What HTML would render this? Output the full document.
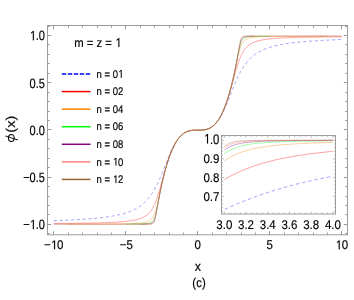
<!DOCTYPE html>
<html><head><meta charset="utf-8"><title>plot</title>
<style>html,body{margin:0;padding:0;background:#fff;}body{width:354px;height:300px;overflow:hidden;position:relative;font-family:"Liberation Sans",sans-serif;}</style>
</head><body>
<svg width="354" height="300" viewBox="0 0 354 300" style="position:absolute;left:0;top:0;will-change:transform">
<rect width="354" height="300" fill="#fff"/>
<defs><clipPath id="cm"><rect x="47.5" y="25.5" width="300.0" height="209.3"/></clipPath>
<clipPath id="ci"><rect x="224.3" y="135.5" width="108.6" height="78.5"/></clipPath></defs>
<g clip-path="url(#cm)" fill="none" stroke-width="0.38" stroke-linejoin="round">
<path d="M53.7,220.76 L54.42,220.73 L55.14,220.7 L55.86,220.68 L56.58,220.65 L57.3,220.62 L58.02,220.6 L58.74,220.57 L59.46,220.54 L60.18,220.51 L60.9,220.48 L61.62,220.45 L62.34,220.42 L63.06,220.39 L63.78,220.36 L64.5,220.33 L65.22,220.3 L65.94,220.27 L66.66,220.23 L67.38,220.2 L68.11,220.17 L68.83,220.13 L69.55,220.1 L70.27,220.06 L70.99,220.02 L71.71,219.99 L72.43,219.95 L73.15,219.91 L73.87,219.87 L74.59,219.83 L75.31,219.79 L76.03,219.75 L76.75,219.71 L77.47,219.67 L78.19,219.63 L78.91,219.58 L79.63,219.54 L80.35,219.49 L81.07,219.45 L81.79,219.4 L82.51,219.35 L83.23,219.3 L83.95,219.25 L84.67,219.2 L85.39,219.15 L86.11,219.1 L86.83,219.04 L87.55,218.99 L88.27,218.93 L88.99,218.87 L89.71,218.82 L90.43,218.76 L91.15,218.69 L91.87,218.63 L92.59,218.57 L93.31,218.5 L94.03,218.44 L94.75,218.37 L95.47,218.3 L96.19,218.23 L96.92,218.16 L97.64,218.08 L98.36,218.01 L99.08,217.93 L99.8,217.85 L100.52,217.77 L101.24,217.68 L101.96,217.6 L102.68,217.51 L103.4,217.42 L104.12,217.33 L104.84,217.24 L105.56,217.14 L106.28,217.04 L107,216.94 L107.72,216.83 L108.44,216.73 L109.16,216.62 L109.88,216.5 L110.6,216.39 L111.32,216.27 L112.04,216.15 L112.76,216.02 L113.48,215.89 L114.2,215.76 L114.92,215.62 L115.64,215.48 L116.36,215.33 L117.08,215.18 L117.8,215.02 L118.52,214.86 L119.24,214.7 L119.96,214.53 L120.68,214.35 L121.4,214.17 L122.12,213.98 L122.84,213.79 L123.56,213.58 L124.28,213.38 L125,213.16 L125.73,212.94 L126.45,212.71 L127.17,212.47 L127.89,212.22 L128.61,211.96 L129.33,211.69 L130.05,211.41 L130.77,211.12 L131.49,210.82 L132.21,210.51 L132.93,210.19 L133.07,210.12 L133.22,210.05 L133.36,209.98 L133.5,209.92 L133.65,209.85 L133.79,209.78 L133.94,209.71 L134.08,209.64 L134.22,209.57 L134.37,209.49 L134.51,209.42 L134.66,209.35 L134.8,209.28 L134.94,209.2 L135.09,209.13 L135.23,209.05 L135.38,208.98 L135.52,208.9 L135.66,208.82 L135.81,208.74 L135.95,208.66 L136.1,208.59 L136.24,208.51 L136.38,208.42 L136.53,208.34 L136.67,208.26 L136.82,208.18 L136.96,208.1 L137.1,208.01 L137.25,207.93 L137.39,207.84 L137.54,207.75 L137.68,207.67 L137.83,207.58 L137.97,207.49 L138.11,207.4 L138.26,207.31 L138.4,207.22 L138.55,207.13 L138.69,207.04 L138.83,206.94 L138.98,206.85 L139.12,206.75 L139.27,206.66 L139.41,206.56 L139.55,206.46 L139.7,206.36 L139.84,206.27 L139.99,206.16 L140.13,206.06 L140.27,205.96 L140.42,205.86 L140.56,205.75 L140.71,205.65 L140.85,205.54 L140.99,205.44 L141.14,205.33 L141.28,205.22 L141.43,205.11 L141.57,205 L141.71,204.89 L141.86,204.78 L142,204.66 L142.15,204.55 L142.29,204.43 L142.43,204.31 L142.58,204.19 L142.72,204.08 L142.87,203.96 L143.01,203.83 L143.16,203.71 L143.3,203.59 L143.44,203.46 L143.59,203.34 L143.73,203.21 L143.88,203.08 L144.02,202.95 L144.16,202.82 L144.31,202.69 L144.45,202.55 L144.6,202.42 L144.74,202.28 L144.88,202.15 L145.03,202.01 L145.17,201.87 L145.32,201.73 L145.46,201.58 L145.6,201.44 L145.75,201.29 L145.89,201.15 L146.04,201 L146.18,200.85 L146.32,200.7 L146.47,200.55 L146.61,200.39 L146.76,200.24 L146.9,200.08 L147.04,199.92 L147.19,199.76 L147.33,199.6 L147.48,199.44 L147.62,199.28 L147.76,199.11 L147.91,198.94 L148.05,198.77 L148.2,198.6 L148.34,198.43 L148.48,198.26 L148.63,198.08 L148.77,197.9 L148.92,197.72 L149.06,197.54 L149.21,197.36 L149.35,197.18 L149.49,196.99 L149.64,196.8 L149.78,196.61 L149.93,196.42 L150.07,196.23 L150.21,196.04 L150.36,195.84 L150.5,195.64 L150.65,195.44 L150.79,195.24 L150.93,195.03 L151.08,194.83 L151.22,194.62 L151.37,194.41 L151.51,194.2 L151.65,193.99 L151.8,193.77 L151.94,193.55 L152.09,193.33 L152.23,193.11 L152.37,192.89 L152.52,192.66 L152.66,192.44 L152.81,192.21 L152.95,191.97 L153.09,191.74 L153.24,191.5 L153.38,191.27 L153.53,191.03 L153.67,190.79 L153.81,190.54 L153.96,190.3 L154.1,190.05 L154.25,189.8 L154.39,189.54 L154.53,189.29 L154.68,189.03 L154.82,188.78 L154.97,188.51 L155.11,188.25 L155.26,187.99 L155.4,187.72 L155.54,187.45 L155.69,187.18 L155.83,186.9 L155.98,186.63 L156.12,186.35 L156.26,186.07 L156.41,185.79 L156.55,185.51 L156.7,185.22 L156.84,184.93 L156.98,184.64 L157.13,184.35 L157.27,184.05 L157.42,183.76 L157.56,183.46 L157.7,183.16 L157.85,182.85 L157.99,182.55 L158.14,182.24 L158.28,181.93 L158.42,181.62 L158.57,181.31 L158.71,181 L158.86,180.68 L159,180.36 L159.14,180.04 L159.29,179.72 L159.43,179.4 L159.58,179.07 L159.72,178.75 L159.86,178.42 L160.01,178.09 L160.15,177.75 L160.3,177.42 L160.44,177.08 L160.59,176.75 L160.73,176.41 L160.87,176.07 L161.02,175.73 L161.16,175.39 L161.31,175.04 L161.45,174.7 L161.59,174.35 L161.74,174 L161.88,173.65 L162.03,173.3 L162.17,172.95 L162.31,172.6 L162.46,172.25 L162.6,171.89 L162.75,171.54 L162.89,171.18 L163.03,170.82 L163.18,170.47 L163.32,170.11 L163.47,169.75 L163.61,169.39 L163.75,169.03 L163.9,168.67 L164.04,168.31 L164.19,167.94 L164.33,167.58 L164.47,167.22 L164.62,166.86 L164.76,166.5 L164.91,166.13 L165.05,165.77 L165.19,165.41 L165.34,165.05 L165.48,164.68 L165.63,164.32 L165.77,163.96 L165.91,163.6 L166.06,163.24 L166.2,162.88 L166.35,162.51 L166.49,162.16 L166.64,161.8 L166.78,161.44 L166.92,161.08 L167.07,160.72 L167.21,160.37 L167.36,160.01 L167.5,159.66 L167.64,159.3 L167.79,158.95 L167.93,158.6 L168.08,158.25 L168.22,157.9 L168.36,157.55 L168.51,157.21 L168.65,156.86 L168.94,156.18 L169.66,154.49 L170.38,152.85 L171.1,151.26 L171.82,149.72 L172.54,148.23 L173.26,146.81 L173.98,145.45 L174.7,144.15M220.8,116.15 L221.52,114.85 L222.24,113.49 L222.96,112.07 L223.68,110.58 L224.4,109.04 L225.12,107.45 L225.84,105.81 L226.56,104.12 L226.85,103.44 L226.99,103.09 L227.14,102.75 L227.28,102.4 L227.42,102.05 L227.57,101.7 L227.71,101.35 L227.86,101 L228,100.64 L228.14,100.29 L228.29,99.93 L228.43,99.58 L228.58,99.22 L228.72,98.86 L228.86,98.5 L229.01,98.14 L229.15,97.79 L229.3,97.42 L229.44,97.06 L229.59,96.7 L229.73,96.34 L229.87,95.98 L230.02,95.62 L230.16,95.25 L230.31,94.89 L230.45,94.53 L230.59,94.17 L230.74,93.8 L230.88,93.44 L231.03,93.08 L231.17,92.72 L231.31,92.36 L231.46,91.99 L231.6,91.63 L231.75,91.27 L231.89,90.91 L232.03,90.55 L232.18,90.19 L232.32,89.83 L232.47,89.48 L232.61,89.12 L232.75,88.76 L232.9,88.41 L233.04,88.05 L233.19,87.7 L233.33,87.35 L233.47,87 L233.62,86.65 L233.76,86.3 L233.91,85.95 L234.05,85.6 L234.19,85.26 L234.34,84.91 L234.48,84.57 L234.63,84.23 L234.77,83.89 L234.91,83.55 L235.06,83.22 L235.2,82.88 L235.35,82.55 L235.49,82.21 L235.64,81.88 L235.78,81.55 L235.92,81.23 L236.07,80.9 L236.21,80.58 L236.36,80.26 L236.5,79.94 L236.64,79.62 L236.79,79.3 L236.93,78.99 L237.08,78.68 L237.22,78.37 L237.36,78.06 L237.51,77.75 L237.65,77.45 L237.8,77.14 L237.94,76.84 L238.08,76.54 L238.23,76.25 L238.37,75.95 L238.52,75.66 L238.66,75.37 L238.8,75.08 L238.95,74.79 L239.09,74.51 L239.24,74.23 L239.38,73.95 L239.52,73.67 L239.67,73.4 L239.81,73.12 L239.96,72.85 L240.1,72.58 L240.24,72.31 L240.39,72.05 L240.53,71.79 L240.68,71.52 L240.82,71.27 L240.97,71.01 L241.11,70.76 L241.25,70.5 L241.4,70.25 L241.54,70 L241.69,69.76 L241.83,69.51 L241.97,69.27 L242.12,69.03 L242.26,68.8 L242.41,68.56 L242.55,68.33 L242.69,68.09 L242.84,67.86 L242.98,67.64 L243.13,67.41 L243.27,67.19 L243.41,66.97 L243.56,66.75 L243.7,66.53 L243.85,66.31 L243.99,66.1 L244.13,65.89 L244.28,65.68 L244.42,65.47 L244.57,65.27 L244.71,65.06 L244.85,64.86 L245,64.66 L245.14,64.46 L245.29,64.26 L245.43,64.07 L245.57,63.88 L245.72,63.69 L245.86,63.5 L246.01,63.31 L246.15,63.12 L246.29,62.94 L246.44,62.76 L246.58,62.58 L246.73,62.4 L246.87,62.22 L247.02,62.04 L247.16,61.87 L247.3,61.7 L247.45,61.53 L247.59,61.36 L247.74,61.19 L247.88,61.02 L248.02,60.86 L248.17,60.7 L248.31,60.54 L248.46,60.38 L248.6,60.22 L248.74,60.06 L248.89,59.91 L249.03,59.75 L249.18,59.6 L249.32,59.45 L249.46,59.3 L249.61,59.15 L249.75,59.01 L249.9,58.86 L250.04,58.72 L250.18,58.57 L250.33,58.43 L250.47,58.29 L250.62,58.15 L250.76,58.02 L250.9,57.88 L251.05,57.75 L251.19,57.61 L251.34,57.48 L251.48,57.35 L251.62,57.22 L251.77,57.09 L251.91,56.96 L252.06,56.84 L252.2,56.71 L252.34,56.59 L252.49,56.47 L252.63,56.34 L252.78,56.22 L252.92,56.11 L253.07,55.99 L253.21,55.87 L253.35,55.75 L253.5,55.64 L253.64,55.52 L253.79,55.41 L253.93,55.3 L254.07,55.19 L254.22,55.08 L254.36,54.97 L254.51,54.86 L254.65,54.76 L254.79,54.65 L254.94,54.55 L255.08,54.44 L255.23,54.34 L255.37,54.24 L255.51,54.14 L255.66,54.03 L255.8,53.94 L255.95,53.84 L256.09,53.74 L256.23,53.64 L256.38,53.55 L256.52,53.45 L256.67,53.36 L256.81,53.26 L256.95,53.17 L257.1,53.08 L257.24,52.99 L257.39,52.9 L257.53,52.81 L257.67,52.72 L257.82,52.63 L257.96,52.55 L258.11,52.46 L258.25,52.37 L258.4,52.29 L258.54,52.2 L258.68,52.12 L258.83,52.04 L258.97,51.96 L259.12,51.88 L259.26,51.79 L259.4,51.71 L259.55,51.64 L259.69,51.56 L259.84,51.48 L259.98,51.4 L260.12,51.32 L260.27,51.25 L260.41,51.17 L260.56,51.1 L260.7,51.02 L260.84,50.95 L260.99,50.88 L261.13,50.81 L261.28,50.73 L261.42,50.66 L261.56,50.59 L261.71,50.52 L261.85,50.45 L262,50.38 L262.14,50.32 L262.28,50.25 L262.43,50.18 L262.57,50.11 L263.29,49.79 L264.01,49.48 L264.73,49.18 L265.45,48.89 L266.17,48.61 L266.89,48.34 L267.61,48.08 L268.33,47.83 L269.05,47.59 L269.77,47.36 L270.5,47.14 L271.22,46.92 L271.94,46.72 L272.66,46.51 L273.38,46.32 L274.1,46.13 L274.82,45.95 L275.54,45.77 L276.26,45.6 L276.98,45.44 L277.7,45.28 L278.42,45.12 L279.14,44.97 L279.86,44.82 L280.58,44.68 L281.3,44.54 L282.02,44.41 L282.74,44.28 L283.46,44.15 L284.18,44.03 L284.9,43.91 L285.62,43.8 L286.34,43.68 L287.06,43.57 L287.78,43.47 L288.5,43.36 L289.22,43.26 L289.94,43.16 L290.66,43.06 L291.38,42.97 L292.1,42.88 L292.82,42.79 L293.54,42.7 L294.26,42.62 L294.98,42.53 L295.7,42.45 L296.42,42.37 L297.14,42.29 L297.86,42.22 L298.58,42.14 L299.31,42.07 L300.03,42 L300.75,41.93 L301.47,41.86 L302.19,41.8 L302.91,41.73 L303.63,41.67 L304.35,41.61 L305.07,41.54 L305.79,41.48 L306.51,41.43 L307.23,41.37 L307.95,41.31 L308.67,41.26 L309.39,41.2 L310.11,41.15 L310.83,41.1 L311.55,41.05 L312.27,41 L312.99,40.95 L313.71,40.9 L314.43,40.85 L315.15,40.81 L315.87,40.76 L316.59,40.72 L317.31,40.67 L318.03,40.63 L318.75,40.59 L319.47,40.55 L320.19,40.51 L320.91,40.47 L321.63,40.43 L322.35,40.39 L323.07,40.35 L323.79,40.31 L324.51,40.28 L325.23,40.24 L325.95,40.2 L326.67,40.17 L327.39,40.13 L328.12,40.1 L328.84,40.07 L329.56,40.03 L330.28,40 L331,39.97 L331.72,39.94 L332.44,39.91 L333.16,39.88 L333.88,39.85 L334.6,39.82 L335.32,39.79 L336.04,39.76 L336.76,39.73 L337.48,39.7 L338.2,39.68 L338.92,39.65 L339.64,39.62 L340.36,39.6 L341.08,39.57 L341.8,39.54" stroke="#0000ff" stroke-dasharray="3.1 2.7"/>
<path d="M53.7,223.53 L54.42,223.52 L55.14,223.52 L55.86,223.51 L56.58,223.51 L57.3,223.5 L58.02,223.5 L58.74,223.49 L59.46,223.48 L60.18,223.48 L60.9,223.47 L61.62,223.46 L62.34,223.46 L63.06,223.45 L63.78,223.44 L64.5,223.44 L65.22,223.43 L65.94,223.42 L66.66,223.41 L67.38,223.41 L68.11,223.4 L68.83,223.39 L69.55,223.38 L70.27,223.38 L70.99,223.37 L71.71,223.36 L72.43,223.35 L73.15,223.34 L73.87,223.33 L74.59,223.32 L75.31,223.31 L76.03,223.3 L76.75,223.3 L77.47,223.29 L78.19,223.28 L78.91,223.27 L79.63,223.25 L80.35,223.24 L81.07,223.23 L81.79,223.22 L82.51,223.21 L83.23,223.2 L83.95,223.19 L84.67,223.18 L85.39,223.16 L86.11,223.15 L86.83,223.14 L87.55,223.12 L88.27,223.11 L88.99,223.1 L89.71,223.08 L90.43,223.07 L91.15,223.05 L91.87,223.04 L92.59,223.02 L93.31,223.01 L94.03,222.99 L94.75,222.97 L95.47,222.96 L96.19,222.94 L96.92,222.92 L97.64,222.9 L98.36,222.88 L99.08,222.86 L99.8,222.84 L100.52,222.82 L101.24,222.8 L101.96,222.78 L102.68,222.76 L103.4,222.73 L104.12,222.71 L104.84,222.68 L105.56,222.66 L106.28,222.63 L107,222.61 L107.72,222.58 L108.44,222.55 L109.16,222.52 L109.88,222.49 L110.6,222.46 L111.32,222.42 L112.04,222.39 L112.76,222.35 L113.48,222.32 L114.2,222.28 L114.92,222.24 L115.64,222.2 L116.36,222.16 L117.08,222.11 L117.8,222.07 L118.52,222.02 L119.24,221.97 L119.96,221.92 L120.68,221.86 L121.4,221.81 L122.12,221.75 L122.84,221.69 L123.56,221.62 L124.28,221.55 L125,221.48 L125.73,221.41 L126.45,221.33 L127.17,221.25 L127.89,221.17 L128.61,221.08 L129.33,220.98 L130.05,220.88 L130.77,220.77 L131.49,220.66 L132.21,220.54 L132.93,220.42 L133.07,220.39 L133.22,220.36 L133.36,220.34 L133.5,220.31 L133.65,220.28 L133.79,220.26 L133.94,220.23 L134.08,220.2 L134.22,220.17 L134.37,220.14 L134.51,220.11 L134.66,220.08 L134.8,220.05 L134.94,220.02 L135.09,219.99 L135.23,219.96 L135.38,219.93 L135.52,219.89 L135.66,219.86 L135.81,219.83 L135.95,219.8 L136.1,219.76 L136.24,219.73 L136.38,219.69 L136.53,219.66 L136.67,219.62 L136.82,219.58 L136.96,219.55 L137.1,219.51 L137.25,219.47 L137.39,219.43 L137.54,219.4 L137.68,219.36 L137.83,219.32 L137.97,219.28 L138.11,219.23 L138.26,219.19 L138.4,219.15 L138.55,219.11 L138.69,219.06 L138.83,219.02 L138.98,218.97 L139.12,218.93 L139.27,218.88 L139.41,218.84 L139.55,218.79 L139.7,218.74 L139.84,218.69 L139.99,218.64 L140.13,218.59 L140.27,218.54 L140.42,218.49 L140.56,218.43 L140.71,218.38 L140.85,218.33 L140.99,218.27 L141.14,218.21 L141.28,218.16 L141.43,218.1 L141.57,218.04 L141.71,217.98 L141.86,217.92 L142,217.86 L142.15,217.79 L142.29,217.73 L142.43,217.66 L142.58,217.6 L142.72,217.53 L142.87,217.46 L143.01,217.39 L143.16,217.32 L143.3,217.25 L143.44,217.18 L143.59,217.1 L143.73,217.03 L143.88,216.95 L144.02,216.87 L144.16,216.79 L144.31,216.71 L144.45,216.63 L144.6,216.55 L144.74,216.46 L144.88,216.37 L145.03,216.28 L145.17,216.19 L145.32,216.1 L145.46,216.01 L145.6,215.91 L145.75,215.82 L145.89,215.72 L146.04,215.62 L146.18,215.52 L146.32,215.41 L146.47,215.31 L146.61,215.2 L146.76,215.09 L146.9,214.97 L147.04,214.86 L147.19,214.74 L147.33,214.62 L147.48,214.5 L147.62,214.38 L147.76,214.25 L147.91,214.12 L148.05,213.99 L148.2,213.86 L148.34,213.72 L148.48,213.59 L148.63,213.44 L148.77,213.3 L148.92,213.15 L149.06,213 L149.21,212.85 L149.35,212.69 L149.49,212.53 L149.64,212.37 L149.78,212.21 L149.93,212.04 L150.07,211.86 L150.21,211.69 L150.36,211.51 L150.5,211.33 L150.65,211.14 L150.79,210.95 L150.93,210.75 L151.08,210.56 L151.22,210.35 L151.37,210.15 L151.51,209.94 L151.65,209.72 L151.8,209.5 L151.94,209.28 L152.09,209.05 L152.23,208.82 L152.37,208.58 L152.52,208.34 L152.66,208.09 L152.81,207.84 L152.95,207.59 L153.09,207.33 L153.24,207.06 L153.38,206.79 L153.53,206.51 L153.67,206.23 L153.81,205.94 L153.96,205.65 L154.1,205.35 L154.25,205.05 L154.39,204.74 L154.53,204.43 L154.68,204.11 L154.82,203.78 L154.97,203.45 L155.11,203.12 L155.26,202.77 L155.4,202.43 L155.54,202.07 L155.69,201.71 L155.83,201.35 L155.98,200.97 L156.12,200.6 L156.26,200.21 L156.41,199.83 L156.55,199.43 L156.7,199.03 L156.84,198.63 L156.98,198.22 L157.13,197.8 L157.27,197.38 L157.42,196.95 L157.56,196.52 L157.7,196.08 L157.85,195.64 L157.99,195.19 L158.14,194.74 L158.28,194.28 L158.42,193.81 L158.57,193.35 L158.71,192.88 L158.86,192.4 L159,191.92 L159.14,191.44 L159.29,190.95 L159.43,190.46 L159.58,189.96 L159.72,189.47 L159.86,188.96 L160.01,188.46 L160.15,187.95 L160.3,187.44 L160.44,186.93 L160.59,186.42 L160.73,185.9 L160.87,185.38 L161.02,184.86 L161.16,184.34 L161.31,183.82 L161.45,183.29 L161.59,182.77 L161.74,182.24 L161.88,181.72 L162.03,181.19 L162.17,180.66 L162.31,180.13 L162.46,179.61 L162.6,179.08 L162.75,178.55 L162.89,178.03 L163.03,177.5 L163.18,176.98 L163.32,176.45 L163.47,175.93 L163.61,175.41 L163.75,174.89 L163.9,174.37 L164.04,173.85 L164.19,173.34 L164.33,172.83 L164.47,172.32 L164.62,171.81 L164.76,171.3 L164.91,170.8 L165.05,170.3 L165.19,169.8 L165.34,169.3 L165.48,168.81 L165.63,168.32 L165.77,167.83 L165.91,167.34 L166.06,166.86 L166.2,166.38 L166.35,165.91 L166.49,165.43 L166.64,164.96 L166.78,164.5 L166.92,164.04 L167.07,163.58 L167.21,163.12 L167.36,162.67 L167.5,162.22 L167.64,161.77 L167.79,161.33 L167.93,160.89 L168.08,160.46 L168.22,160.03 L168.36,159.6 L168.51,159.17 L168.65,158.75 L168.94,157.92 L169.66,155.92 L170.38,154 L171.1,152.18 L171.82,150.45 L172.54,148.81 L173.26,147.26 L173.98,145.8 L174.7,144.42 L175.42,143.13 L176.14,141.91 L176.86,140.77 L177.58,139.71 L178.3,138.73 L179.02,137.81 L179.74,136.96 L180.46,136.18 L181.18,135.45 L181.9,134.79 L182.62,134.19 L183.34,133.64 L184.06,133.14 L184.78,132.69 L185.5,132.29 L186.22,131.94 L186.94,131.62 L187.66,131.35 L188.38,131.11 L189.1,130.91 L189.82,130.73 L190.54,130.59 L191.26,130.47 L191.98,130.37 L192.7,130.3 L193.42,130.24 L194.14,130.21 L194.86,130.18 L195.58,130.16 L196.3,130.15 L197.02,130.15 L197.74,130.15 L197.75,130.15 L197.76,130.15 L198.48,130.15 L199.2,130.15 L199.92,130.14 L200.64,130.12 L201.36,130.09 L202.08,130.06 L202.8,130 L203.52,129.93 L204.24,129.83 L204.96,129.71 L205.68,129.57 L206.4,129.39 L207.12,129.19 L207.84,128.95 L208.56,128.68 L209.28,128.36 L210,128.01 L210.72,127.61 L211.44,127.16 L212.16,126.66 L212.88,126.11 L213.6,125.51 L214.32,124.85 L215.04,124.12 L215.76,123.34 L216.48,122.49 L217.2,121.57 L217.92,120.59 L218.64,119.53 L219.36,118.39 L220.08,117.17 L220.8,115.88 L221.52,114.5 L222.24,113.04 L222.96,111.49 L223.68,109.85 L224.4,108.12 L225.12,106.3 L225.84,104.38 L226.56,102.38 L226.85,101.55 L226.99,101.13 L227.14,100.7 L227.28,100.27 L227.42,99.84 L227.57,99.41 L227.71,98.97 L227.86,98.53 L228,98.08 L228.14,97.63 L228.29,97.18 L228.43,96.72 L228.58,96.26 L228.72,95.8 L228.86,95.34 L229.01,94.87 L229.15,94.39 L229.3,93.92 L229.44,93.44 L229.59,92.96 L229.73,92.47 L229.87,91.98 L230.02,91.49 L230.16,91 L230.31,90.5 L230.45,90 L230.59,89.5 L230.74,89 L230.88,88.49 L231.03,87.98 L231.17,87.47 L231.31,86.96 L231.46,86.45 L231.6,85.93 L231.75,85.41 L231.89,84.89 L232.03,84.37 L232.18,83.85 L232.32,83.32 L232.47,82.8 L232.61,82.27 L232.75,81.75 L232.9,81.22 L233.04,80.69 L233.19,80.17 L233.33,79.64 L233.47,79.11 L233.62,78.58 L233.76,78.06 L233.91,77.53 L234.05,77.01 L234.19,76.48 L234.34,75.96 L234.48,75.44 L234.63,74.92 L234.77,74.4 L234.91,73.88 L235.06,73.37 L235.2,72.86 L235.35,72.35 L235.49,71.84 L235.64,71.34 L235.78,70.83 L235.92,70.34 L236.07,69.84 L236.21,69.35 L236.36,68.86 L236.5,68.38 L236.64,67.9 L236.79,67.42 L236.93,66.95 L237.08,66.49 L237.22,66.02 L237.36,65.56 L237.51,65.11 L237.65,64.66 L237.8,64.22 L237.94,63.78 L238.08,63.35 L238.23,62.92 L238.37,62.5 L238.52,62.08 L238.66,61.67 L238.8,61.27 L238.95,60.87 L239.09,60.47 L239.24,60.09 L239.38,59.7 L239.52,59.33 L239.67,58.95 L239.81,58.59 L239.96,58.23 L240.1,57.87 L240.24,57.53 L240.39,57.18 L240.53,56.85 L240.68,56.52 L240.82,56.19 L240.97,55.87 L241.11,55.56 L241.25,55.25 L241.4,54.95 L241.54,54.65 L241.69,54.36 L241.83,54.07 L241.97,53.79 L242.12,53.51 L242.26,53.24 L242.41,52.97 L242.55,52.71 L242.69,52.46 L242.84,52.21 L242.98,51.96 L243.13,51.72 L243.27,51.48 L243.41,51.25 L243.56,51.02 L243.7,50.8 L243.85,50.58 L243.99,50.36 L244.13,50.15 L244.28,49.95 L244.42,49.74 L244.57,49.55 L244.71,49.35 L244.85,49.16 L245,48.97 L245.14,48.79 L245.29,48.61 L245.43,48.44 L245.57,48.26 L245.72,48.09 L245.86,47.93 L246.01,47.77 L246.15,47.61 L246.29,47.45 L246.44,47.3 L246.58,47.15 L246.73,47 L246.87,46.86 L247.02,46.71 L247.16,46.58 L247.3,46.44 L247.45,46.31 L247.59,46.18 L247.74,46.05 L247.88,45.92 L248.02,45.8 L248.17,45.68 L248.31,45.56 L248.46,45.44 L248.6,45.33 L248.74,45.21 L248.89,45.1 L249.03,44.99 L249.18,44.89 L249.32,44.78 L249.46,44.68 L249.61,44.58 L249.75,44.48 L249.9,44.39 L250.04,44.29 L250.18,44.2 L250.33,44.11 L250.47,44.02 L250.62,43.93 L250.76,43.84 L250.9,43.75 L251.05,43.67 L251.19,43.59 L251.34,43.51 L251.48,43.43 L251.62,43.35 L251.77,43.27 L251.91,43.2 L252.06,43.12 L252.2,43.05 L252.34,42.98 L252.49,42.91 L252.63,42.84 L252.78,42.77 L252.92,42.7 L253.07,42.64 L253.21,42.57 L253.35,42.51 L253.5,42.44 L253.64,42.38 L253.79,42.32 L253.93,42.26 L254.07,42.2 L254.22,42.14 L254.36,42.09 L254.51,42.03 L254.65,41.97 L254.79,41.92 L254.94,41.87 L255.08,41.81 L255.23,41.76 L255.37,41.71 L255.51,41.66 L255.66,41.61 L255.8,41.56 L255.95,41.51 L256.09,41.46 L256.23,41.42 L256.38,41.37 L256.52,41.33 L256.67,41.28 L256.81,41.24 L256.95,41.19 L257.1,41.15 L257.24,41.11 L257.39,41.07 L257.53,41.02 L257.67,40.98 L257.82,40.94 L257.96,40.9 L258.11,40.87 L258.25,40.83 L258.4,40.79 L258.54,40.75 L258.68,40.72 L258.83,40.68 L258.97,40.64 L259.12,40.61 L259.26,40.57 L259.4,40.54 L259.55,40.5 L259.69,40.47 L259.84,40.44 L259.98,40.41 L260.12,40.37 L260.27,40.34 L260.41,40.31 L260.56,40.28 L260.7,40.25 L260.84,40.22 L260.99,40.19 L261.13,40.16 L261.28,40.13 L261.42,40.1 L261.56,40.07 L261.71,40.04 L261.85,40.02 L262,39.99 L262.14,39.96 L262.28,39.94 L262.43,39.91 L262.57,39.88 L263.29,39.76 L264.01,39.64 L264.73,39.53 L265.45,39.42 L266.17,39.32 L266.89,39.22 L267.61,39.13 L268.33,39.05 L269.05,38.97 L269.77,38.89 L270.5,38.82 L271.22,38.75 L271.94,38.68 L272.66,38.61 L273.38,38.55 L274.1,38.49 L274.82,38.44 L275.54,38.38 L276.26,38.33 L276.98,38.28 L277.7,38.23 L278.42,38.19 L279.14,38.14 L279.86,38.1 L280.58,38.06 L281.3,38.02 L282.02,37.98 L282.74,37.95 L283.46,37.91 L284.18,37.88 L284.9,37.84 L285.62,37.81 L286.34,37.78 L287.06,37.75 L287.78,37.72 L288.5,37.69 L289.22,37.67 L289.94,37.64 L290.66,37.62 L291.38,37.59 L292.1,37.57 L292.82,37.54 L293.54,37.52 L294.26,37.5 L294.98,37.48 L295.7,37.46 L296.42,37.44 L297.14,37.42 L297.86,37.4 L298.58,37.38 L299.31,37.36 L300.03,37.34 L300.75,37.33 L301.47,37.31 L302.19,37.29 L302.91,37.28 L303.63,37.26 L304.35,37.25 L305.07,37.23 L305.79,37.22 L306.51,37.2 L307.23,37.19 L307.95,37.18 L308.67,37.16 L309.39,37.15 L310.11,37.14 L310.83,37.12 L311.55,37.11 L312.27,37.1 L312.99,37.09 L313.71,37.08 L314.43,37.07 L315.15,37.06 L315.87,37.05 L316.59,37.03 L317.31,37.02 L318.03,37.01 L318.75,37 L319.47,37 L320.19,36.99 L320.91,36.98 L321.63,36.97 L322.35,36.96 L323.07,36.95 L323.79,36.94 L324.51,36.93 L325.23,36.92 L325.95,36.92 L326.67,36.91 L327.39,36.9 L328.12,36.89 L328.84,36.89 L329.56,36.88 L330.28,36.87 L331,36.86 L331.72,36.86 L332.44,36.85 L333.16,36.84 L333.88,36.84 L334.6,36.83 L335.32,36.82 L336.04,36.82 L336.76,36.81 L337.48,36.8 L338.2,36.8 L338.92,36.79 L339.64,36.79 L340.36,36.78 L341.08,36.78 L341.8,36.77" stroke="#ff0000"/>
<path d="M67.38,224.1 L68.11,224.1 L68.83,224.1 L69.55,224.1 L70.27,224.1 L70.99,224.09 L71.71,224.09 L72.43,224.09 L73.15,224.09 L73.87,224.09 L74.59,224.09 L75.31,224.09 L76.03,224.09 L76.75,224.08 L77.47,224.08 L78.19,224.08 L78.91,224.08 L79.63,224.08 L80.35,224.08 L81.07,224.07 L81.79,224.07 L82.51,224.07 L83.23,224.07 L83.95,224.07 L84.67,224.07 L85.39,224.06 L86.11,224.06 L86.83,224.06 L87.55,224.06 L88.27,224.06 L88.99,224.05 L89.71,224.05 L90.43,224.05 L91.15,224.05 L91.87,224.04 L92.59,224.04 L93.31,224.04 L94.03,224.04 L94.75,224.03 L95.47,224.03 L96.19,224.03 L96.92,224.03 L97.64,224.02 L98.36,224.02 L99.08,224.02 L99.8,224.01 L100.52,224.01 L101.24,224.01 L101.96,224 L102.68,224 L103.4,224 L104.12,223.99 L104.84,223.99 L105.56,223.98 L106.28,223.98 L107,223.97 L107.72,223.97 L108.44,223.96 L109.16,223.96 L109.88,223.95 L110.6,223.95 L111.32,223.94 L112.04,223.94 L112.76,223.93 L113.48,223.92 L114.2,223.92 L114.92,223.91 L115.64,223.9 L116.36,223.9 L117.08,223.89 L117.8,223.88 L118.52,223.87 L119.24,223.86 L119.96,223.85 L120.68,223.84 L121.4,223.83 L122.12,223.82 L122.84,223.81 L123.56,223.8 L124.28,223.78 L125,223.77 L125.73,223.76 L126.45,223.74 L127.17,223.72 L127.89,223.71 L128.61,223.69 L129.33,223.67 L130.05,223.65 L130.77,223.62 L131.49,223.6 L132.21,223.57 L132.93,223.55 L133.07,223.54 L133.22,223.54 L133.36,223.53 L133.5,223.52 L133.65,223.52 L133.79,223.51 L133.94,223.5 L134.08,223.5 L134.22,223.49 L134.37,223.49 L134.51,223.48 L134.66,223.47 L134.8,223.46 L134.94,223.46 L135.09,223.45 L135.23,223.44 L135.38,223.44 L135.52,223.43 L135.66,223.42 L135.81,223.41 L135.95,223.4 L136.1,223.4 L136.24,223.39 L136.38,223.38 L136.53,223.37 L136.67,223.36 L136.82,223.35 L136.96,223.34 L137.1,223.34 L137.25,223.33 L137.39,223.32 L137.54,223.31 L137.68,223.3 L137.83,223.29 L137.97,223.28 L138.11,223.27 L138.26,223.26 L138.4,223.24 L138.55,223.23 L138.69,223.22 L138.83,223.21 L138.98,223.2 L139.12,223.19 L139.27,223.18 L139.41,223.16 L139.55,223.15 L139.7,223.14 L139.84,223.12 L139.99,223.11 L140.13,223.1 L140.27,223.08 L140.42,223.07 L140.56,223.05 L140.71,223.04 L140.85,223.02 L140.99,223.01 L141.14,222.99 L141.28,222.97 L141.43,222.96 L141.57,222.94 L141.71,222.92 L141.86,222.91 L142,222.89 L142.15,222.87 L142.29,222.85 L142.43,222.83 L142.58,222.81 L142.72,222.79 L142.87,222.77 L143.01,222.75 L143.16,222.72 L143.3,222.7 L143.44,222.68 L143.59,222.65 L143.73,222.63 L143.88,222.6 L144.02,222.58 L144.16,222.55 L144.31,222.52 L144.45,222.49 L144.6,222.47 L144.74,222.44 L144.88,222.41 L145.03,222.37 L145.17,222.34 L145.32,222.31 L145.46,222.27 L145.6,222.24 L145.75,222.2 L145.89,222.17 L146.04,222.13 L146.18,222.09 L146.32,222.05 L146.47,222 L146.61,221.96 L146.76,221.92 L146.9,221.87 L147.04,221.82 L147.19,221.77 L147.33,221.72 L147.48,221.67 L147.62,221.61 L147.76,221.56 L147.91,221.5 L148.05,221.44 L148.2,221.38 L148.34,221.31 L148.48,221.24 L148.63,221.17 L148.77,221.1 L148.92,221.03 L149.06,220.95 L149.21,220.87 L149.35,220.79 L149.49,220.7 L149.64,220.61 L149.78,220.52 L149.93,220.42 L150.07,220.32 L150.21,220.22 L150.36,220.11 L150.5,219.99 L150.65,219.88 L150.79,219.75 L150.93,219.62 L151.08,219.49 L151.22,219.35 L151.37,219.21 L151.51,219.06 L151.65,218.9 L151.8,218.74 L151.94,218.57 L152.09,218.39 L152.23,218.2 L152.37,218.01 L152.52,217.81 L152.66,217.6 L152.81,217.38 L152.95,217.15 L153.09,216.91 L153.24,216.66 L153.38,216.41 L153.53,216.14 L153.67,215.85 L153.81,215.56 L153.96,215.26 L154.1,214.94 L154.25,214.61 L154.39,214.27 L154.53,213.92 L154.68,213.55 L154.82,213.17 L154.97,212.78 L155.11,212.37 L155.26,211.95 L155.4,211.51 L155.54,211.06 L155.69,210.6 L155.83,210.12 L155.98,209.63 L156.12,209.13 L156.26,208.61 L156.41,208.08 L156.55,207.54 L156.7,206.99 L156.84,206.43 L156.98,205.85 L157.13,205.27 L157.27,204.67 L157.42,204.07 L157.56,203.46 L157.7,202.84 L157.85,202.21 L157.99,201.57 L158.14,200.93 L158.28,200.29 L158.42,199.63 L158.57,198.98 L158.71,198.32 L158.86,197.66 L159,196.99 L159.14,196.33 L159.29,195.66 L159.43,194.99 L159.58,194.32 L159.72,193.65 L159.86,192.98 L160.01,192.31 L160.15,191.64 L160.3,190.97 L160.44,190.31 L160.59,189.64 L160.73,188.98 L160.87,188.32 L161.02,187.67 L161.16,187.02 L161.31,186.37 L161.45,185.72 L161.59,185.08 L161.74,184.44 L161.88,183.8 L162.03,183.17 L162.17,182.54 L162.31,181.91 L162.46,181.29 L162.6,180.68 L162.75,180.07 L162.89,179.46 L163.03,178.86 L163.18,178.26 L163.32,177.66 L163.47,177.07 L163.61,176.49 L163.75,175.91 L163.9,175.33 L164.04,174.76 L164.19,174.19 L164.33,173.63 L164.47,173.07 L164.62,172.52 L164.76,171.97 L164.91,171.42 L165.05,170.88 L165.19,170.35 L165.34,169.82 L165.48,169.29 L165.63,168.77 L165.77,168.26 L165.91,167.74 L166.06,167.24 L166.2,166.73 L166.35,166.23 L166.49,165.74 L166.64,165.25 L166.78,164.77 L166.92,164.29 L167.07,163.81 L167.21,163.34 L167.36,162.87 L167.5,162.41 L167.64,161.95 L167.79,161.5 L167.93,161.05 L168.08,160.6 L168.22,160.16 L168.36,159.72 L168.51,159.29 L168.65,158.86 L168.94,158.02 L169.66,155.98 L170.38,154.04 L171.1,152.21 L171.82,150.47 L172.54,148.82 L173.26,147.27 L173.98,145.8 L174.7,144.42 L175.42,143.13 L176.14,141.91 L176.86,140.78 L177.58,139.71 L178.3,138.73 L179.02,137.81 L179.74,136.96 L180.46,136.18 L181.18,135.45 L181.9,134.79 L182.62,134.19 L183.34,133.64 L184.06,133.14 L184.78,132.69 L185.5,132.29 L186.22,131.94 L186.94,131.62 L187.66,131.35 L188.38,131.11 L189.1,130.91 L189.82,130.73 L190.54,130.59 L191.26,130.47 L191.98,130.37 L192.7,130.3 L193.42,130.24 L194.14,130.21 L194.86,130.18 L195.58,130.16 L196.3,130.15 L197.02,130.15 L197.74,130.15 L197.75,130.15 L197.76,130.15 L198.48,130.15 L199.2,130.15 L199.92,130.14 L200.64,130.12 L201.36,130.09 L202.08,130.06 L202.8,130 L203.52,129.93 L204.24,129.83 L204.96,129.71 L205.68,129.57 L206.4,129.39 L207.12,129.19 L207.84,128.95 L208.56,128.68 L209.28,128.36 L210,128.01 L210.72,127.61 L211.44,127.16 L212.16,126.66 L212.88,126.11 L213.6,125.51 L214.32,124.85 L215.04,124.12 L215.76,123.34 L216.48,122.49 L217.2,121.57 L217.92,120.59 L218.64,119.52 L219.36,118.39 L220.08,117.17 L220.8,115.88 L221.52,114.5 L222.24,113.03 L222.96,111.48 L223.68,109.83 L224.4,108.09 L225.12,106.26 L225.84,104.32 L226.56,102.28 L226.85,101.44 L226.99,101.01 L227.14,100.58 L227.28,100.14 L227.42,99.7 L227.57,99.25 L227.71,98.8 L227.86,98.35 L228,97.89 L228.14,97.43 L228.29,96.96 L228.43,96.49 L228.58,96.01 L228.72,95.53 L228.86,95.05 L229.01,94.56 L229.15,94.07 L229.3,93.57 L229.44,93.06 L229.59,92.56 L229.73,92.04 L229.87,91.53 L230.02,91.01 L230.16,90.48 L230.31,89.95 L230.45,89.42 L230.59,88.88 L230.74,88.33 L230.88,87.78 L231.03,87.23 L231.17,86.67 L231.31,86.11 L231.46,85.54 L231.6,84.97 L231.75,84.39 L231.89,83.81 L232.03,83.23 L232.18,82.64 L232.32,82.04 L232.47,81.44 L232.61,80.84 L232.75,80.23 L232.9,79.62 L233.04,79.01 L233.19,78.39 L233.33,77.76 L233.47,77.13 L233.62,76.5 L233.76,75.86 L233.91,75.22 L234.05,74.58 L234.19,73.93 L234.34,73.28 L234.48,72.63 L234.63,71.98 L234.77,71.32 L234.91,70.66 L235.06,69.99 L235.2,69.33 L235.35,68.66 L235.49,67.99 L235.64,67.32 L235.78,66.65 L235.92,65.98 L236.07,65.31 L236.21,64.64 L236.36,63.97 L236.5,63.31 L236.64,62.64 L236.79,61.98 L236.93,61.32 L237.08,60.67 L237.22,60.01 L237.36,59.37 L237.51,58.73 L237.65,58.09 L237.8,57.46 L237.94,56.84 L238.08,56.23 L238.23,55.63 L238.37,55.03 L238.52,54.45 L238.66,53.87 L238.8,53.31 L238.95,52.76 L239.09,52.22 L239.24,51.69 L239.38,51.17 L239.52,50.67 L239.67,50.18 L239.81,49.7 L239.96,49.24 L240.1,48.79 L240.24,48.35 L240.39,47.93 L240.53,47.52 L240.68,47.13 L240.82,46.75 L240.97,46.38 L241.11,46.03 L241.25,45.69 L241.4,45.36 L241.54,45.04 L241.69,44.74 L241.83,44.45 L241.97,44.16 L242.12,43.89 L242.26,43.64 L242.41,43.39 L242.55,43.15 L242.69,42.92 L242.84,42.7 L242.98,42.49 L243.13,42.29 L243.27,42.1 L243.41,41.91 L243.56,41.73 L243.7,41.56 L243.85,41.4 L243.99,41.24 L244.13,41.09 L244.28,40.95 L244.42,40.81 L244.57,40.68 L244.71,40.55 L244.85,40.42 L245,40.31 L245.14,40.19 L245.29,40.08 L245.43,39.98 L245.57,39.88 L245.72,39.78 L245.86,39.69 L246.01,39.6 L246.15,39.51 L246.29,39.43 L246.44,39.35 L246.58,39.27 L246.73,39.2 L246.87,39.13 L247.02,39.06 L247.16,38.99 L247.3,38.92 L247.45,38.86 L247.59,38.8 L247.74,38.74 L247.88,38.69 L248.02,38.63 L248.17,38.58 L248.31,38.53 L248.46,38.48 L248.6,38.43 L248.74,38.38 L248.89,38.34 L249.03,38.3 L249.18,38.25 L249.32,38.21 L249.46,38.17 L249.61,38.13 L249.75,38.1 L249.9,38.06 L250.04,38.03 L250.18,37.99 L250.33,37.96 L250.47,37.93 L250.62,37.89 L250.76,37.86 L250.9,37.83 L251.05,37.81 L251.19,37.78 L251.34,37.75 L251.48,37.72 L251.62,37.7 L251.77,37.67 L251.91,37.65 L252.06,37.62 L252.2,37.6 L252.34,37.58 L252.49,37.55 L252.63,37.53 L252.78,37.51 L252.92,37.49 L253.07,37.47 L253.21,37.45 L253.35,37.43 L253.5,37.41 L253.64,37.39 L253.79,37.38 L253.93,37.36 L254.07,37.34 L254.22,37.33 L254.36,37.31 L254.51,37.29 L254.65,37.28 L254.79,37.26 L254.94,37.25 L255.08,37.23 L255.23,37.22 L255.37,37.2 L255.51,37.19 L255.66,37.18 L255.8,37.16 L255.95,37.15 L256.09,37.14 L256.23,37.12 L256.38,37.11 L256.52,37.1 L256.67,37.09 L256.81,37.08 L256.95,37.07 L257.1,37.06 L257.24,37.04 L257.39,37.03 L257.53,37.02 L257.67,37.01 L257.82,37 L257.96,36.99 L258.11,36.98 L258.25,36.97 L258.4,36.96 L258.54,36.96 L258.68,36.95 L258.83,36.94 L258.97,36.93 L259.12,36.92 L259.26,36.91 L259.4,36.9 L259.55,36.9 L259.69,36.89 L259.84,36.88 L259.98,36.87 L260.12,36.86 L260.27,36.86 L260.41,36.85 L260.56,36.84 L260.7,36.84 L260.84,36.83 L260.99,36.82 L261.13,36.81 L261.28,36.81 L261.42,36.8 L261.56,36.8 L261.71,36.79 L261.85,36.78 L262,36.78 L262.14,36.77 L262.28,36.76 L262.43,36.76 L262.57,36.75 L263.29,36.73 L264.01,36.7 L264.73,36.68 L265.45,36.65 L266.17,36.63 L266.89,36.61 L267.61,36.59 L268.33,36.58 L269.05,36.56 L269.77,36.54 L270.5,36.53 L271.22,36.52 L271.94,36.5 L272.66,36.49 L273.38,36.48 L274.1,36.47 L274.82,36.46 L275.54,36.45 L276.26,36.44 L276.98,36.43 L277.7,36.42 L278.42,36.41 L279.14,36.4 L279.86,36.4 L280.58,36.39 L281.3,36.38 L282.02,36.38 L282.74,36.37 L283.46,36.36 L284.18,36.36 L284.9,36.35 L285.62,36.35 L286.34,36.34 L287.06,36.34 L287.78,36.33 L288.5,36.33 L289.22,36.32 L289.94,36.32 L290.66,36.31 L291.38,36.31 L292.1,36.3 L292.82,36.3 L293.54,36.3 L294.26,36.29 L294.98,36.29 L295.7,36.29 L296.42,36.28 L297.14,36.28 L297.86,36.28 L298.58,36.27 L299.31,36.27 L300.03,36.27 L300.75,36.27 L301.47,36.26 L302.19,36.26 L302.91,36.26 L303.63,36.26 L304.35,36.25 L305.07,36.25 L305.79,36.25 L306.51,36.25 L307.23,36.24 L307.95,36.24 L308.67,36.24 L309.39,36.24 L310.11,36.24 L310.83,36.23 L311.55,36.23 L312.27,36.23 L312.99,36.23 L313.71,36.23 L314.43,36.23 L315.15,36.22 L315.87,36.22 L316.59,36.22 L317.31,36.22 L318.03,36.22 L318.75,36.22 L319.47,36.21 L320.19,36.21 L320.91,36.21 L321.63,36.21 L322.35,36.21 L323.07,36.21 L323.79,36.21 L324.51,36.21 L325.23,36.2 L325.95,36.2 L326.67,36.2 L327.39,36.2 L328.12,36.2" stroke="#ff8000"/>
<path d="M125.73,224.1 L126.45,224.1 L127.17,224.09 L127.89,224.09 L128.61,224.08 L129.33,224.08 L130.05,224.07 L130.77,224.07 L131.49,224.06 L132.21,224.05 L132.93,224.05 L133.07,224.04 L133.22,224.04 L133.36,224.04 L133.5,224.04 L133.65,224.04 L133.79,224.04 L133.94,224.03 L134.08,224.03 L134.22,224.03 L134.37,224.03 L134.51,224.03 L134.66,224.02 L134.8,224.02 L134.94,224.02 L135.09,224.02 L135.23,224.02 L135.38,224.01 L135.52,224.01 L135.66,224.01 L135.81,224.01 L135.95,224 L136.1,224 L136.24,224 L136.38,224 L136.53,223.99 L136.67,223.99 L136.82,223.99 L136.96,223.99 L137.1,223.98 L137.25,223.98 L137.39,223.98 L137.54,223.97 L137.68,223.97 L137.83,223.97 L137.97,223.96 L138.11,223.96 L138.26,223.96 L138.4,223.95 L138.55,223.95 L138.69,223.95 L138.83,223.94 L138.98,223.94 L139.12,223.94 L139.27,223.93 L139.41,223.93 L139.55,223.92 L139.7,223.92 L139.84,223.92 L139.99,223.91 L140.13,223.91 L140.27,223.9 L140.42,223.9 L140.56,223.89 L140.71,223.89 L140.85,223.88 L140.99,223.88 L141.14,223.87 L141.28,223.87 L141.43,223.86 L141.57,223.86 L141.71,223.85 L141.86,223.84 L142,223.84 L142.15,223.83 L142.29,223.82 L142.43,223.82 L142.58,223.81 L142.72,223.8 L142.87,223.8 L143.01,223.79 L143.16,223.78 L143.3,223.77 L143.44,223.76 L143.59,223.75 L143.73,223.75 L143.88,223.74 L144.02,223.73 L144.16,223.72 L144.31,223.71 L144.45,223.7 L144.6,223.69 L144.74,223.67 L144.88,223.66 L145.03,223.65 L145.17,223.64 L145.32,223.63 L145.46,223.61 L145.6,223.6 L145.75,223.58 L145.89,223.57 L146.04,223.55 L146.18,223.54 L146.32,223.52 L146.47,223.5 L146.61,223.49 L146.76,223.47 L146.9,223.45 L147.04,223.43 L147.19,223.41 L147.33,223.38 L147.48,223.36 L147.62,223.34 L147.76,223.31 L147.91,223.29 L148.05,223.26 L148.2,223.23 L148.34,223.2 L148.48,223.17 L148.63,223.14 L148.77,223.1 L148.92,223.07 L149.06,223.03 L149.21,222.99 L149.35,222.94 L149.49,222.9 L149.64,222.85 L149.78,222.8 L149.93,222.75 L150.07,222.7 L150.21,222.64 L150.36,222.58 L150.5,222.51 L150.65,222.45 L150.79,222.37 L150.93,222.3 L151.08,222.21 L151.22,222.13 L151.37,222.04 L151.51,221.94 L151.65,221.83 L151.8,221.72 L151.94,221.6 L152.09,221.48 L152.23,221.34 L152.37,221.2 L152.52,221.05 L152.66,220.88 L152.81,220.71 L152.95,220.52 L153.09,220.32 L153.24,220.11 L153.38,219.88 L153.53,219.64 L153.67,219.38 L153.81,219.11 L153.96,218.81 L154.1,218.5 L154.25,218.17 L154.39,217.82 L154.53,217.45 L154.68,217.05 L154.82,216.64 L154.97,216.2 L155.11,215.74 L155.26,215.26 L155.4,214.75 L155.54,214.23 L155.69,213.68 L155.83,213.11 L155.98,212.53 L156.12,211.92 L156.26,211.3 L156.41,210.66 L156.55,210.01 L156.7,209.34 L156.84,208.66 L156.98,207.97 L157.13,207.27 L157.27,206.56 L157.42,205.84 L157.56,205.12 L157.7,204.4 L157.85,203.67 L157.99,202.93 L158.14,202.2 L158.28,201.46 L158.42,200.72 L158.57,199.99 L158.71,199.25 L158.86,198.51 L159,197.78 L159.14,197.05 L159.29,196.32 L159.43,195.6 L159.58,194.88 L159.72,194.16 L159.86,193.45 L160.01,192.73 L160.15,192.03 L160.3,191.33 L160.44,190.63 L160.59,189.94 L160.73,189.25 L160.87,188.57 L161.02,187.89 L161.16,187.21 L161.31,186.54 L161.45,185.88 L161.59,185.22 L161.74,184.57 L161.88,183.92 L162.03,183.27 L162.17,182.63 L162.31,182 L162.46,181.37 L162.6,180.75 L162.75,180.13 L162.89,179.51 L163.03,178.91 L163.18,178.3 L163.32,177.7 L163.47,177.11 L163.61,176.52 L163.75,175.93 L163.9,175.36 L164.04,174.78 L164.19,174.21 L164.33,173.65 L164.47,173.09 L164.62,172.53 L164.76,171.98 L164.91,171.44 L165.05,170.89 L165.19,170.36 L165.34,169.83 L165.48,169.3 L165.63,168.78 L165.77,168.26 L165.91,167.75 L166.06,167.24 L166.2,166.74 L166.35,166.24 L166.49,165.74 L166.64,165.25 L166.78,164.77 L166.92,164.29 L167.07,163.81 L167.21,163.34 L167.36,162.87 L167.5,162.41 L167.64,161.95 L167.79,161.5 L167.93,161.05 L168.08,160.6 L168.22,160.16 L168.36,159.72 L168.51,159.29 L168.65,158.86 L168.94,158.02 L169.66,155.98 L170.38,154.04 L171.1,152.21 L171.82,150.47 L172.54,148.82 L173.26,147.27 L173.98,145.8 L174.7,144.42 L175.42,143.13 L176.14,141.91 L176.86,140.78 L177.58,139.71 L178.3,138.73 L179.02,137.81 L179.74,136.96 L180.46,136.18 L181.18,135.45 L181.9,134.79 L182.62,134.19 L183.34,133.64 L184.06,133.14 L184.78,132.69 L185.5,132.29 L186.22,131.94 L186.94,131.62 L187.66,131.35 L188.38,131.11 L189.1,130.91 L189.82,130.73 L190.54,130.59 L191.26,130.47 L191.98,130.37 L192.7,130.3 L193.42,130.24 L194.14,130.21 L194.86,130.18 L195.58,130.16 L196.3,130.15 L197.02,130.15 L197.74,130.15 L197.75,130.15 L197.76,130.15 L198.48,130.15 L199.2,130.15 L199.92,130.14 L200.64,130.12 L201.36,130.09 L202.08,130.06 L202.8,130 L203.52,129.93 L204.24,129.83 L204.96,129.71 L205.68,129.57 L206.4,129.39 L207.12,129.19 L207.84,128.95 L208.56,128.68 L209.28,128.36 L210,128.01 L210.72,127.61 L211.44,127.16 L212.16,126.66 L212.88,126.11 L213.6,125.51 L214.32,124.85 L215.04,124.12 L215.76,123.34 L216.48,122.49 L217.2,121.57 L217.92,120.59 L218.64,119.52 L219.36,118.39 L220.08,117.17 L220.8,115.88 L221.52,114.5 L222.24,113.03 L222.96,111.48 L223.68,109.83 L224.4,108.09 L225.12,106.26 L225.84,104.32 L226.56,102.28 L226.85,101.44 L226.99,101.01 L227.14,100.58 L227.28,100.14 L227.42,99.7 L227.57,99.25 L227.71,98.8 L227.86,98.35 L228,97.89 L228.14,97.43 L228.29,96.96 L228.43,96.49 L228.58,96.01 L228.72,95.53 L228.86,95.05 L229.01,94.56 L229.15,94.06 L229.3,93.56 L229.44,93.06 L229.59,92.55 L229.73,92.04 L229.87,91.52 L230.02,91 L230.16,90.47 L230.31,89.94 L230.45,89.41 L230.59,88.86 L230.74,88.32 L230.88,87.77 L231.03,87.21 L231.17,86.65 L231.31,86.09 L231.46,85.52 L231.6,84.94 L231.75,84.37 L231.89,83.78 L232.03,83.19 L232.18,82.6 L232.32,82 L232.47,81.39 L232.61,80.79 L232.75,80.17 L232.9,79.55 L233.04,78.93 L233.19,78.3 L233.33,77.67 L233.47,77.03 L233.62,76.38 L233.76,75.73 L233.91,75.08 L234.05,74.42 L234.19,73.76 L234.34,73.09 L234.48,72.41 L234.63,71.73 L234.77,71.05 L234.91,70.36 L235.06,69.67 L235.2,68.97 L235.35,68.27 L235.49,67.57 L235.64,66.85 L235.78,66.14 L235.92,65.42 L236.07,64.7 L236.21,63.98 L236.36,63.25 L236.5,62.52 L236.64,61.79 L236.79,61.05 L236.93,60.31 L237.08,59.58 L237.22,58.84 L237.36,58.1 L237.51,57.37 L237.65,56.63 L237.8,55.9 L237.94,55.18 L238.08,54.46 L238.23,53.74 L238.37,53.03 L238.52,52.33 L238.66,51.64 L238.8,50.96 L238.95,50.29 L239.09,49.64 L239.24,49 L239.38,48.38 L239.52,47.77 L239.67,47.19 L239.81,46.62 L239.96,46.07 L240.1,45.55 L240.24,45.04 L240.39,44.56 L240.53,44.1 L240.68,43.66 L240.82,43.25 L240.97,42.85 L241.11,42.48 L241.25,42.13 L241.4,41.8 L241.54,41.49 L241.69,41.19 L241.83,40.92 L241.97,40.66 L242.12,40.42 L242.26,40.19 L242.41,39.98 L242.55,39.78 L242.69,39.59 L242.84,39.42 L242.98,39.25 L243.13,39.1 L243.27,38.96 L243.41,38.82 L243.56,38.7 L243.7,38.58 L243.85,38.47 L243.99,38.36 L244.13,38.26 L244.28,38.17 L244.42,38.09 L244.57,38 L244.71,37.93 L244.85,37.85 L245,37.79 L245.14,37.72 L245.29,37.66 L245.43,37.6 L245.57,37.55 L245.72,37.5 L245.86,37.45 L246.01,37.4 L246.15,37.36 L246.29,37.31 L246.44,37.27 L246.58,37.23 L246.73,37.2 L246.87,37.16 L247.02,37.13 L247.16,37.1 L247.3,37.07 L247.45,37.04 L247.59,37.01 L247.74,36.99 L247.88,36.96 L248.02,36.94 L248.17,36.92 L248.31,36.89 L248.46,36.87 L248.6,36.85 L248.74,36.83 L248.89,36.81 L249.03,36.8 L249.18,36.78 L249.32,36.76 L249.46,36.75 L249.61,36.73 L249.75,36.72 L249.9,36.7 L250.04,36.69 L250.18,36.67 L250.33,36.66 L250.47,36.65 L250.62,36.64 L250.76,36.63 L250.9,36.61 L251.05,36.6 L251.19,36.59 L251.34,36.58 L251.48,36.57 L251.62,36.56 L251.77,36.55 L251.91,36.55 L252.06,36.54 L252.2,36.53 L252.34,36.52 L252.49,36.51 L252.63,36.5 L252.78,36.5 L252.92,36.49 L253.07,36.48 L253.21,36.48 L253.35,36.47 L253.5,36.46 L253.64,36.46 L253.79,36.45 L253.93,36.44 L254.07,36.44 L254.22,36.43 L254.36,36.43 L254.51,36.42 L254.65,36.42 L254.79,36.41 L254.94,36.41 L255.08,36.4 L255.23,36.4 L255.37,36.39 L255.51,36.39 L255.66,36.38 L255.8,36.38 L255.95,36.38 L256.09,36.37 L256.23,36.37 L256.38,36.36 L256.52,36.36 L256.67,36.36 L256.81,36.35 L256.95,36.35 L257.1,36.35 L257.24,36.34 L257.39,36.34 L257.53,36.34 L257.67,36.33 L257.82,36.33 L257.96,36.33 L258.11,36.32 L258.25,36.32 L258.4,36.32 L258.54,36.31 L258.68,36.31 L258.83,36.31 L258.97,36.31 L259.12,36.3 L259.26,36.3 L259.4,36.3 L259.55,36.3 L259.69,36.29 L259.84,36.29 L259.98,36.29 L260.12,36.29 L260.27,36.28 L260.41,36.28 L260.56,36.28 L260.7,36.28 L260.84,36.28 L260.99,36.27 L261.13,36.27 L261.28,36.27 L261.42,36.27 L261.56,36.27 L261.71,36.26 L261.85,36.26 L262,36.26 L262.14,36.26 L262.28,36.26 L262.43,36.26 L262.57,36.25 L263.29,36.25 L264.01,36.24 L264.73,36.23 L265.45,36.23 L266.17,36.22 L266.89,36.22 L267.61,36.21 L268.33,36.21 L269.05,36.2 L269.77,36.2" stroke="#00ff00"/>
<path d="M140.85,224.1 L140.99,224.09 L141.14,224.09 L141.28,224.09 L141.43,224.09 L141.57,224.09 L141.71,224.08 L141.86,224.08 L142,224.08 L142.15,224.08 L142.29,224.07 L142.43,224.07 L142.58,224.07 L142.72,224.07 L142.87,224.06 L143.01,224.06 L143.16,224.06 L143.3,224.05 L143.44,224.05 L143.59,224.05 L143.73,224.04 L143.88,224.04 L144.02,224.03 L144.16,224.03 L144.31,224.03 L144.45,224.02 L144.6,224.02 L144.74,224.01 L144.88,224.01 L145.03,224 L145.17,224 L145.32,223.99 L145.46,223.99 L145.6,223.98 L145.75,223.97 L145.89,223.97 L146.04,223.96 L146.18,223.95 L146.32,223.95 L146.47,223.94 L146.61,223.93 L146.76,223.92 L146.9,223.91 L147.04,223.9 L147.19,223.89 L147.33,223.88 L147.48,223.87 L147.62,223.86 L147.76,223.85 L147.91,223.84 L148.05,223.83 L148.2,223.81 L148.34,223.8 L148.48,223.78 L148.63,223.77 L148.77,223.75 L148.92,223.73 L149.06,223.71 L149.21,223.69 L149.35,223.67 L149.49,223.65 L149.64,223.62 L149.78,223.59 L149.93,223.57 L150.07,223.54 L150.21,223.5 L150.36,223.47 L150.5,223.43 L150.65,223.39 L150.79,223.35 L150.93,223.31 L151.08,223.26 L151.22,223.2 L151.37,223.15 L151.51,223.08 L151.65,223.02 L151.8,222.94 L151.94,222.86 L152.09,222.78 L152.23,222.68 L152.37,222.58 L152.52,222.47 L152.66,222.35 L152.81,222.21 L152.95,222.07 L153.09,221.91 L153.24,221.73 L153.38,221.54 L153.53,221.33 L153.67,221.1 L153.81,220.85 L153.96,220.58 L154.1,220.28 L154.25,219.95 L154.39,219.6 L154.53,219.22 L154.68,218.81 L154.82,218.36 L154.97,217.89 L155.11,217.39 L155.26,216.85 L155.4,216.29 L155.54,215.7 L155.69,215.08 L155.83,214.44 L155.98,213.77 L156.12,213.09 L156.26,212.39 L156.41,211.67 L156.55,210.93 L156.7,210.19 L156.84,209.44 L156.98,208.68 L157.13,207.91 L157.27,207.14 L157.42,206.36 L157.56,205.59 L157.7,204.81 L157.85,204.04 L157.99,203.26 L158.14,202.49 L158.28,201.72 L158.42,200.95 L158.57,200.19 L158.71,199.43 L158.86,198.67 L159,197.92 L159.14,197.17 L159.29,196.43 L159.43,195.69 L159.58,194.96 L159.72,194.23 L159.86,193.51 L160.01,192.79 L160.15,192.08 L160.3,191.37 L160.44,190.66 L160.59,189.97 L160.73,189.27 L160.87,188.59 L161.02,187.91 L161.16,187.23 L161.31,186.56 L161.45,185.89 L161.59,185.23 L161.74,184.58 L161.88,183.93 L162.03,183.28 L162.17,182.64 L162.31,182.01 L162.46,181.38 L162.6,180.75 L162.75,180.13 L162.89,179.52 L163.03,178.91 L163.18,178.3 L163.32,177.7 L163.47,177.11 L163.61,176.52 L163.75,175.94 L163.9,175.36 L164.04,174.78 L164.19,174.21 L164.33,173.65 L164.47,173.09 L164.62,172.53 L164.76,171.98 L164.91,171.44 L165.05,170.89 L165.19,170.36 L165.34,169.83 L165.48,169.3 L165.63,168.78 L165.77,168.26 L165.91,167.75 L166.06,167.24 L166.2,166.74 L166.35,166.24 L166.49,165.74 L166.64,165.25 L166.78,164.77 L166.92,164.29 L167.07,163.81 L167.21,163.34 L167.36,162.87 L167.5,162.41 L167.64,161.95 L167.79,161.5 L167.93,161.05 L168.08,160.6 L168.22,160.16 L168.36,159.72 L168.51,159.29 L168.65,158.86 L168.94,158.02 L169.66,155.98 L170.38,154.04 L171.1,152.21 L171.82,150.47 L172.54,148.82 L173.26,147.27 L173.98,145.8 L174.7,144.42 L175.42,143.13 L176.14,141.91 L176.86,140.78 L177.58,139.71 L178.3,138.73 L179.02,137.81 L179.74,136.96 L180.46,136.18 L181.18,135.45 L181.9,134.79 L182.62,134.19 L183.34,133.64 L184.06,133.14 L184.78,132.69 L185.5,132.29 L186.22,131.94 L186.94,131.62 L187.66,131.35 L188.38,131.11 L189.1,130.91 L189.82,130.73 L190.54,130.59 L191.26,130.47 L191.98,130.37 L192.7,130.3 L193.42,130.24 L194.14,130.21 L194.86,130.18 L195.58,130.16 L196.3,130.15 L197.02,130.15 L197.74,130.15 L197.75,130.15 L197.76,130.15 L198.48,130.15 L199.2,130.15 L199.92,130.14 L200.64,130.12 L201.36,130.09 L202.08,130.06 L202.8,130 L203.52,129.93 L204.24,129.83 L204.96,129.71 L205.68,129.57 L206.4,129.39 L207.12,129.19 L207.84,128.95 L208.56,128.68 L209.28,128.36 L210,128.01 L210.72,127.61 L211.44,127.16 L212.16,126.66 L212.88,126.11 L213.6,125.51 L214.32,124.85 L215.04,124.12 L215.76,123.34 L216.48,122.49 L217.2,121.57 L217.92,120.59 L218.64,119.52 L219.36,118.39 L220.08,117.17 L220.8,115.88 L221.52,114.5 L222.24,113.03 L222.96,111.48 L223.68,109.83 L224.4,108.09 L225.12,106.26 L225.84,104.32 L226.56,102.28 L226.85,101.44 L226.99,101.01 L227.14,100.58 L227.28,100.14 L227.42,99.7 L227.57,99.25 L227.71,98.8 L227.86,98.35 L228,97.89 L228.14,97.43 L228.29,96.96 L228.43,96.49 L228.58,96.01 L228.72,95.53 L228.86,95.05 L229.01,94.56 L229.15,94.06 L229.3,93.56 L229.44,93.06 L229.59,92.55 L229.73,92.04 L229.87,91.52 L230.02,91 L230.16,90.47 L230.31,89.94 L230.45,89.41 L230.59,88.86 L230.74,88.32 L230.88,87.77 L231.03,87.21 L231.17,86.65 L231.31,86.09 L231.46,85.52 L231.6,84.94 L231.75,84.36 L231.89,83.78 L232.03,83.19 L232.18,82.6 L232.32,82 L232.47,81.39 L232.61,80.78 L232.75,80.17 L232.9,79.55 L233.04,78.92 L233.19,78.29 L233.33,77.66 L233.47,77.02 L233.62,76.37 L233.76,75.72 L233.91,75.07 L234.05,74.41 L234.19,73.74 L234.34,73.07 L234.48,72.39 L234.63,71.71 L234.77,71.03 L234.91,70.33 L235.06,69.64 L235.2,68.93 L235.35,68.22 L235.49,67.51 L235.64,66.79 L235.78,66.07 L235.92,65.34 L236.07,64.61 L236.21,63.87 L236.36,63.13 L236.5,62.38 L236.64,61.63 L236.79,60.87 L236.93,60.11 L237.08,59.35 L237.22,58.58 L237.36,57.81 L237.51,57.04 L237.65,56.26 L237.8,55.49 L237.94,54.71 L238.08,53.94 L238.23,53.16 L238.37,52.39 L238.52,51.62 L238.66,50.86 L238.8,50.11 L238.95,49.37 L239.09,48.63 L239.24,47.91 L239.38,47.21 L239.52,46.53 L239.67,45.86 L239.81,45.22 L239.96,44.6 L240.1,44.01 L240.24,43.45 L240.39,42.91 L240.53,42.41 L240.68,41.94 L240.82,41.49 L240.97,41.08 L241.11,40.7 L241.25,40.35 L241.4,40.02 L241.54,39.72 L241.69,39.45 L241.83,39.2 L241.97,38.97 L242.12,38.76 L242.26,38.57 L242.41,38.39 L242.55,38.23 L242.69,38.09 L242.84,37.95 L242.98,37.83 L243.13,37.72 L243.27,37.62 L243.41,37.52 L243.56,37.44 L243.7,37.36 L243.85,37.28 L243.99,37.22 L244.13,37.15 L244.28,37.1 L244.42,37.04 L244.57,36.99 L244.71,36.95 L244.85,36.91 L245,36.87 L245.14,36.83 L245.29,36.8 L245.43,36.76 L245.57,36.73 L245.72,36.71 L245.86,36.68 L246.01,36.65 L246.15,36.63 L246.29,36.61 L246.44,36.59 L246.58,36.57 L246.73,36.55 L246.87,36.53 L247.02,36.52 L247.16,36.5 L247.3,36.49 L247.45,36.47 L247.59,36.46 L247.74,36.45 L247.88,36.44 L248.02,36.43 L248.17,36.42 L248.31,36.41 L248.46,36.4 L248.6,36.39 L248.74,36.38 L248.89,36.37 L249.03,36.36 L249.18,36.35 L249.32,36.35 L249.46,36.34 L249.61,36.33 L249.75,36.33 L249.9,36.32 L250.04,36.31 L250.18,36.31 L250.33,36.3 L250.47,36.3 L250.62,36.29 L250.76,36.29 L250.9,36.28 L251.05,36.28 L251.19,36.27 L251.34,36.27 L251.48,36.27 L251.62,36.26 L251.77,36.26 L251.91,36.25 L252.06,36.25 L252.2,36.25 L252.34,36.24 L252.49,36.24 L252.63,36.24 L252.78,36.23 L252.92,36.23 L253.07,36.23 L253.21,36.23 L253.35,36.22 L253.5,36.22 L253.64,36.22 L253.79,36.22 L253.93,36.21 L254.07,36.21 L254.22,36.21 L254.36,36.21 L254.51,36.21 L254.65,36.2" stroke="#800080"/>
<path d="M53.7,224.2 L54.42,224.2 L55.14,224.2 L55.86,224.2 L56.58,224.2 L57.3,224.2 L58.02,224.2 L58.74,224.2 L59.46,224.2 L60.18,224.2 L60.9,224.2 L61.62,224.2 L62.34,224.2 L63.06,224.2 L63.78,224.2 L64.5,224.2 L65.22,224.2 L65.94,224.2 L66.66,224.2 L67.38,224.2 L68.11,224.2 L68.83,224.2 L69.55,224.2 L70.27,224.2 L70.99,224.2 L71.71,224.2 L72.43,224.2 L73.15,224.2 L73.87,224.2 L74.59,224.2 L75.31,224.2 L76.03,224.2 L76.75,224.2 L77.47,224.2 L78.19,224.2 L78.91,224.2 L79.63,224.2 L80.35,224.2 L81.07,224.2 L81.79,224.2 L82.51,224.2 L83.23,224.2 L83.95,224.2 L84.67,224.2 L85.39,224.2 L86.11,224.2 L86.83,224.2 L87.55,224.2 L88.27,224.2 L88.99,224.2 L89.71,224.2 L90.43,224.2 L91.15,224.2 L91.87,224.2 L92.59,224.2 L93.31,224.2 L94.03,224.2 L94.75,224.2 L95.47,224.2 L96.19,224.2 L96.92,224.2 L97.64,224.2 L98.36,224.2 L99.08,224.2 L99.8,224.2 L100.52,224.2 L101.24,224.2 L101.96,224.2 L102.68,224.2 L103.4,224.2 L104.12,224.2 L104.84,224.2 L105.56,224.2 L106.28,224.2 L107,224.2 L107.72,224.2 L108.44,224.2 L109.16,224.2 L109.88,224.2 L110.6,224.2 L111.32,224.2 L112.04,224.2 L112.76,224.2 L113.48,224.2 L114.2,224.2 L114.92,224.2 L115.64,224.2 L116.36,224.2 L117.08,224.2 L117.8,224.2 L118.52,224.2 L119.24,224.2 L119.96,224.2 L120.68,224.2 L121.4,224.2 L122.12,224.2 L122.84,224.2 L123.56,224.19 L124.28,224.19 L125,224.19 L125.73,224.19 L126.45,224.19 L127.17,224.19 L127.89,224.19 L128.61,224.19 L129.33,224.19 L130.05,224.19 L130.77,224.19 L131.49,224.19 L132.21,224.19 L132.93,224.19 L133.07,224.19 L133.22,224.19 L133.36,224.19 L133.5,224.19 L133.65,224.19 L133.79,224.19 L133.94,224.19 L134.08,224.19 L134.22,224.19 L134.37,224.19 L134.51,224.19 L134.66,224.19 L134.8,224.19 L134.94,224.19 L135.09,224.19 L135.23,224.19 L135.38,224.19 L135.52,224.18 L135.66,224.18 L135.81,224.18 L135.95,224.18 L136.1,224.18 L136.24,224.18 L136.38,224.18 L136.53,224.18 L136.67,224.18 L136.82,224.18 L136.96,224.18 L137.1,224.18 L137.25,224.18 L137.39,224.18 L137.54,224.18 L137.68,224.18 L137.83,224.18 L137.97,224.18 L138.11,224.18 L138.26,224.18 L138.4,224.18 L138.55,224.18 L138.69,224.18 L138.83,224.18 L138.98,224.18 L139.12,224.18 L139.27,224.18 L139.41,224.18 L139.55,224.17 L139.7,224.17 L139.84,224.17 L139.99,224.17 L140.13,224.17 L140.27,224.17 L140.42,224.17 L140.56,224.17 L140.71,224.17 L140.85,224.17 L140.99,224.17 L141.14,224.17 L141.28,224.17 L141.43,224.17 L141.57,224.17 L141.71,224.16 L141.86,224.16 L142,224.16 L142.15,224.16 L142.29,224.16 L142.43,224.16 L142.58,224.16 L142.72,224.16 L142.87,224.16 L143.01,224.16 L143.16,224.15 L143.3,224.15 L143.44,224.15 L143.59,224.15 L143.73,224.15 L143.88,224.15 L144.02,224.15 L144.16,224.14 L144.31,224.14 L144.45,224.14 L144.6,224.14 L144.74,224.14 L144.88,224.14 L145.03,224.13 L145.17,224.13 L145.32,224.13 L145.46,224.13 L145.6,224.12 L145.75,224.12 L145.89,224.12 L146.04,224.12 L146.18,224.11 L146.32,224.11 L146.47,224.11 L146.61,224.1 L146.76,224.1 L146.9,224.1 L147.04,224.09 L147.19,224.09 L147.33,224.08 L147.48,224.08 L147.62,224.07 L147.76,224.07 L147.91,224.06 L148.05,224.06 L148.2,224.05 L148.34,224.04 L148.48,224.04 L148.63,224.03 L148.77,224.02 L148.92,224.01 L149.06,224 L149.21,223.99 L149.35,223.98 L149.49,223.97 L149.64,223.96 L149.78,223.94 L149.93,223.93 L150.07,223.91 L150.21,223.89 L150.36,223.88 L150.5,223.86 L150.65,223.83 L150.79,223.81 L150.93,223.78 L151.08,223.75 L151.22,223.72 L151.37,223.69 L151.51,223.65 L151.65,223.61 L151.8,223.56 L151.94,223.51 L152.09,223.45 L152.23,223.39 L152.37,223.32 L152.52,223.24 L152.66,223.15 L152.81,223.05 L152.95,222.94 L153.09,222.82 L153.24,222.67 L153.38,222.52 L153.53,222.34 L153.67,222.14 L153.81,221.91 L153.96,221.66 L154.1,221.37 L154.25,221.06 L154.39,220.71 L154.53,220.32 L154.68,219.89 L154.82,219.42 L154.97,218.91 L155.11,218.37 L155.26,217.78 L155.4,217.16 L155.54,216.51 L155.69,215.83 L155.83,215.13 L155.98,214.4 L156.12,213.65 L156.26,212.89 L156.41,212.11 L156.55,211.33 L156.7,210.53 L156.84,209.74 L156.98,208.94 L157.13,208.13 L157.27,207.33 L157.42,206.53 L157.56,205.73 L157.7,204.94 L157.85,204.14 L157.99,203.35 L158.14,202.57 L158.28,201.78 L158.42,201.01 L158.57,200.23 L158.71,199.47 L158.86,198.7 L159,197.95 L159.14,197.19 L159.29,196.45 L159.43,195.71 L159.58,194.97 L159.72,194.24 L159.86,193.52 L160.01,192.8 L160.15,192.08 L160.3,191.37 L160.44,190.67 L160.59,189.97 L160.73,189.28 L160.87,188.59 L161.02,187.91 L161.16,187.23 L161.31,186.56 L161.45,185.89 L161.59,185.23 L161.74,184.58 L161.88,183.93 L162.03,183.28 L162.17,182.64 L162.31,182.01 L162.46,181.38 L162.6,180.75 L162.75,180.13 L162.89,179.52 L163.03,178.91 L163.18,178.3 L163.32,177.7 L163.47,177.11 L163.61,176.52 L163.75,175.94 L163.9,175.36 L164.04,174.78 L164.19,174.21 L164.33,173.65 L164.47,173.09 L164.62,172.53 L164.76,171.98 L164.91,171.44 L165.05,170.89 L165.19,170.36 L165.34,169.83 L165.48,169.3 L165.63,168.78 L165.77,168.26 L165.91,167.75 L166.06,167.24 L166.2,166.74 L166.35,166.24 L166.49,165.74 L166.64,165.25 L166.78,164.77 L166.92,164.29 L167.07,163.81 L167.21,163.34 L167.36,162.87 L167.5,162.41 L167.64,161.95 L167.79,161.5 L167.93,161.05 L168.08,160.6 L168.22,160.16 L168.36,159.72 L168.51,159.29 L168.65,158.86 L168.94,158.02 L169.66,155.98 L170.38,154.04 L171.1,152.21 L171.82,150.47 L172.54,148.82 L173.26,147.27 L173.98,145.8 L174.7,144.42 L175.42,143.13 L176.14,141.91 L176.86,140.78 L177.58,139.71 L178.3,138.73 L179.02,137.81 L179.74,136.96 L180.46,136.18 L181.18,135.45 L181.9,134.79 L182.62,134.19 L183.34,133.64 L184.06,133.14 L184.78,132.69 L185.5,132.29 L186.22,131.94 L186.94,131.62 L187.66,131.35 L188.38,131.11 L189.1,130.91 L189.82,130.73 L190.54,130.59 L191.26,130.47 L191.98,130.37 L192.7,130.3 L193.42,130.24 L194.14,130.21 L194.86,130.18 L195.58,130.16 L196.3,130.15 L197.02,130.15 L197.74,130.15 L197.75,130.15 L197.76,130.15 L198.48,130.15 L199.2,130.15 L199.92,130.14 L200.64,130.12 L201.36,130.09 L202.08,130.06 L202.8,130 L203.52,129.93 L204.24,129.83 L204.96,129.71 L205.68,129.57 L206.4,129.39 L207.12,129.19 L207.84,128.95 L208.56,128.68 L209.28,128.36 L210,128.01 L210.72,127.61 L211.44,127.16 L212.16,126.66 L212.88,126.11 L213.6,125.51 L214.32,124.85 L215.04,124.12 L215.76,123.34 L216.48,122.49 L217.2,121.57 L217.92,120.59 L218.64,119.52 L219.36,118.39 L220.08,117.17 L220.8,115.88 L221.52,114.5 L222.24,113.03 L222.96,111.48 L223.68,109.83 L224.4,108.09 L225.12,106.26 L225.84,104.32 L226.56,102.28 L226.85,101.44 L226.99,101.01 L227.14,100.58 L227.28,100.14 L227.42,99.7 L227.57,99.25 L227.71,98.8 L227.86,98.35 L228,97.89 L228.14,97.43 L228.29,96.96 L228.43,96.49 L228.58,96.01 L228.72,95.53 L228.86,95.05 L229.01,94.56 L229.15,94.06 L229.3,93.56 L229.44,93.06 L229.59,92.55 L229.73,92.04 L229.87,91.52 L230.02,91 L230.16,90.47 L230.31,89.94 L230.45,89.41 L230.59,88.86 L230.74,88.32 L230.88,87.77 L231.03,87.21 L231.17,86.65 L231.31,86.09 L231.46,85.52 L231.6,84.94 L231.75,84.36 L231.89,83.78 L232.03,83.19 L232.18,82.6 L232.32,82 L232.47,81.39 L232.61,80.78 L232.75,80.17 L232.9,79.55 L233.04,78.92 L233.19,78.29 L233.33,77.66 L233.47,77.02 L233.62,76.37 L233.76,75.72 L233.91,75.07 L234.05,74.41 L234.19,73.74 L234.34,73.07 L234.48,72.39 L234.63,71.71 L234.77,71.02 L234.91,70.33 L235.06,69.63 L235.2,68.93 L235.35,68.22 L235.49,67.5 L235.64,66.78 L235.78,66.06 L235.92,65.33 L236.07,64.59 L236.21,63.85 L236.36,63.11 L236.5,62.35 L236.64,61.6 L236.79,60.83 L236.93,60.07 L237.08,59.29 L237.22,58.52 L237.36,57.73 L237.51,56.95 L237.65,56.16 L237.8,55.36 L237.94,54.57 L238.08,53.77 L238.23,52.97 L238.37,52.17 L238.52,51.36 L238.66,50.56 L238.8,49.77 L238.95,48.97 L239.09,48.19 L239.24,47.41 L239.38,46.65 L239.52,45.9 L239.67,45.17 L239.81,44.47 L239.96,43.79 L240.1,43.14 L240.24,42.52 L240.39,41.93 L240.53,41.39 L240.68,40.88 L240.82,40.41 L240.97,39.98 L241.11,39.59 L241.25,39.24 L241.4,38.93 L241.54,38.64 L241.69,38.39 L241.83,38.16 L241.97,37.96 L242.12,37.78 L242.26,37.63 L242.41,37.48 L242.55,37.36 L242.69,37.25 L242.84,37.15 L242.98,37.06 L243.13,36.98 L243.27,36.91 L243.41,36.85 L243.56,36.79 L243.7,36.74 L243.85,36.69 L243.99,36.65 L244.13,36.61 L244.28,36.58 L244.42,36.55 L244.57,36.52 L244.71,36.49 L244.85,36.47 L245,36.44 L245.14,36.42 L245.29,36.41 L245.43,36.39 L245.57,36.37 L245.72,36.36 L245.86,36.34 L246.01,36.33 L246.15,36.32 L246.29,36.31 L246.44,36.3 L246.58,36.29 L246.73,36.28 L246.87,36.27 L247.02,36.26 L247.16,36.26 L247.3,36.25 L247.45,36.24 L247.59,36.24 L247.74,36.23 L247.88,36.23 L248.02,36.22 L248.17,36.22 L248.31,36.21 L248.46,36.21 L248.6,36.2 L248.74,36.2 L248.89,36.2 L249.03,36.19 L249.18,36.19 L249.32,36.19 L249.46,36.18 L249.61,36.18 L249.75,36.18 L249.9,36.18 L250.04,36.17 L250.18,36.17 L250.33,36.17 L250.47,36.17 L250.62,36.16 L250.76,36.16 L250.9,36.16 L251.05,36.16 L251.19,36.16 L251.34,36.16 L251.48,36.15 L251.62,36.15 L251.77,36.15 L251.91,36.15 L252.06,36.15 L252.2,36.15 L252.34,36.15 L252.49,36.14 L252.63,36.14 L252.78,36.14 L252.92,36.14 L253.07,36.14 L253.21,36.14 L253.35,36.14 L253.5,36.14 L253.64,36.14 L253.79,36.14 L253.93,36.13 L254.07,36.13 L254.22,36.13 L254.36,36.13 L254.51,36.13 L254.65,36.13 L254.79,36.13 L254.94,36.13 L255.08,36.13 L255.23,36.13 L255.37,36.13 L255.51,36.13 L255.66,36.13 L255.8,36.13 L255.95,36.13 L256.09,36.12 L256.23,36.12 L256.38,36.12 L256.52,36.12 L256.67,36.12 L256.81,36.12 L256.95,36.12 L257.1,36.12 L257.24,36.12 L257.39,36.12 L257.53,36.12 L257.67,36.12 L257.82,36.12 L257.96,36.12 L258.11,36.12 L258.25,36.12 L258.4,36.12 L258.54,36.12 L258.68,36.12 L258.83,36.12 L258.97,36.12 L259.12,36.12 L259.26,36.12 L259.4,36.12 L259.55,36.12 L259.69,36.12 L259.84,36.12 L259.98,36.12 L260.12,36.11 L260.27,36.11 L260.41,36.11 L260.56,36.11 L260.7,36.11 L260.84,36.11 L260.99,36.11 L261.13,36.11 L261.28,36.11 L261.42,36.11 L261.56,36.11 L261.71,36.11 L261.85,36.11 L262,36.11 L262.14,36.11 L262.28,36.11 L262.43,36.11 L262.57,36.11 L263.29,36.11 L264.01,36.11 L264.73,36.11 L265.45,36.11 L266.17,36.11 L266.89,36.11 L267.61,36.11 L268.33,36.11 L269.05,36.11 L269.77,36.11 L270.5,36.11 L271.22,36.11 L271.94,36.11 L272.66,36.1 L273.38,36.1 L274.1,36.1 L274.82,36.1 L275.54,36.1 L276.26,36.1 L276.98,36.1 L277.7,36.1 L278.42,36.1 L279.14,36.1 L279.86,36.1 L280.58,36.1 L281.3,36.1 L282.02,36.1 L282.74,36.1 L283.46,36.1 L284.18,36.1 L284.9,36.1 L285.62,36.1 L286.34,36.1 L287.06,36.1 L287.78,36.1 L288.5,36.1 L289.22,36.1 L289.94,36.1 L290.66,36.1 L291.38,36.1 L292.1,36.1 L292.82,36.1 L293.54,36.1 L294.26,36.1 L294.98,36.1 L295.7,36.1 L296.42,36.1 L297.14,36.1 L297.86,36.1 L298.58,36.1 L299.31,36.1 L300.03,36.1 L300.75,36.1 L301.47,36.1 L302.19,36.1 L302.91,36.1 L303.63,36.1 L304.35,36.1 L305.07,36.1 L305.79,36.1 L306.51,36.1 L307.23,36.1 L307.95,36.1 L308.67,36.1 L309.39,36.1 L310.11,36.1 L310.83,36.1 L311.55,36.1 L312.27,36.1 L312.99,36.1 L313.71,36.1 L314.43,36.1 L315.15,36.1 L315.87,36.1 L316.59,36.1 L317.31,36.1 L318.03,36.1 L318.75,36.1 L319.47,36.1 L320.19,36.1 L320.91,36.1 L321.63,36.1 L322.35,36.1 L323.07,36.1 L323.79,36.1 L324.51,36.1 L325.23,36.1 L325.95,36.1 L326.67,36.1 L327.39,36.1 L328.12,36.1 L328.84,36.1 L329.56,36.1 L330.28,36.1 L331,36.1 L331.72,36.1 L332.44,36.1 L333.16,36.1 L333.88,36.1 L334.6,36.1 L335.32,36.1 L336.04,36.1 L336.76,36.1 L337.48,36.1 L338.2,36.1 L338.92,36.1 L339.64,36.1 L340.36,36.1 L341.08,36.1 L341.8,36.1" stroke="#ff8080"/>
<path d="M53.7,224.2 L54.42,224.2 L55.14,224.2 L55.86,224.2 L56.58,224.2 L57.3,224.2 L58.02,224.2 L58.74,224.2 L59.46,224.2 L60.18,224.2 L60.9,224.2 L61.62,224.2 L62.34,224.2 L63.06,224.2 L63.78,224.2 L64.5,224.2 L65.22,224.2 L65.94,224.2 L66.66,224.2 L67.38,224.2 L68.11,224.2 L68.83,224.2 L69.55,224.2 L70.27,224.2 L70.99,224.2 L71.71,224.2 L72.43,224.2 L73.15,224.2 L73.87,224.2 L74.59,224.2 L75.31,224.2 L76.03,224.2 L76.75,224.2 L77.47,224.2 L78.19,224.2 L78.91,224.2 L79.63,224.2 L80.35,224.2 L81.07,224.2 L81.79,224.2 L82.51,224.2 L83.23,224.2 L83.95,224.2 L84.67,224.2 L85.39,224.2 L86.11,224.2 L86.83,224.2 L87.55,224.2 L88.27,224.2 L88.99,224.2 L89.71,224.2 L90.43,224.2 L91.15,224.2 L91.87,224.2 L92.59,224.2 L93.31,224.2 L94.03,224.2 L94.75,224.2 L95.47,224.2 L96.19,224.2 L96.92,224.2 L97.64,224.2 L98.36,224.2 L99.08,224.2 L99.8,224.2 L100.52,224.2 L101.24,224.2 L101.96,224.2 L102.68,224.2 L103.4,224.2 L104.12,224.2 L104.84,224.2 L105.56,224.2 L106.28,224.2 L107,224.2 L107.72,224.2 L108.44,224.2 L109.16,224.2 L109.88,224.2 L110.6,224.2 L111.32,224.2 L112.04,224.2 L112.76,224.2 L113.48,224.2 L114.2,224.2 L114.92,224.2 L115.64,224.2 L116.36,224.2 L117.08,224.2 L117.8,224.2 L118.52,224.2 L119.24,224.2 L119.96,224.2 L120.68,224.2 L121.4,224.2 L122.12,224.2 L122.84,224.2 L123.56,224.2 L124.28,224.2 L125,224.2 L125.73,224.2 L126.45,224.2 L127.17,224.2 L127.89,224.2 L128.61,224.2 L129.33,224.2 L130.05,224.2 L130.77,224.2 L131.49,224.2 L132.21,224.2 L132.93,224.2 L133.07,224.2 L133.22,224.2 L133.36,224.2 L133.5,224.2 L133.65,224.2 L133.79,224.2 L133.94,224.2 L134.08,224.2 L134.22,224.2 L134.37,224.2 L134.51,224.2 L134.66,224.2 L134.8,224.2 L134.94,224.2 L135.09,224.2 L135.23,224.2 L135.38,224.2 L135.52,224.2 L135.66,224.2 L135.81,224.2 L135.95,224.2 L136.1,224.2 L136.24,224.2 L136.38,224.2 L136.53,224.2 L136.67,224.2 L136.82,224.2 L136.96,224.2 L137.1,224.2 L137.25,224.2 L137.39,224.2 L137.54,224.2 L137.68,224.2 L137.83,224.2 L137.97,224.2 L138.11,224.2 L138.26,224.2 L138.4,224.2 L138.55,224.2 L138.69,224.2 L138.83,224.2 L138.98,224.2 L139.12,224.2 L139.27,224.2 L139.41,224.2 L139.55,224.2 L139.7,224.2 L139.84,224.2 L139.99,224.2 L140.13,224.2 L140.27,224.2 L140.42,224.2 L140.56,224.2 L140.71,224.2 L140.85,224.2 L140.99,224.2 L141.14,224.2 L141.28,224.2 L141.43,224.19 L141.57,224.19 L141.71,224.19 L141.86,224.19 L142,224.19 L142.15,224.19 L142.29,224.19 L142.43,224.19 L142.58,224.19 L142.72,224.19 L142.87,224.19 L143.01,224.19 L143.16,224.19 L143.3,224.19 L143.44,224.19 L143.59,224.19 L143.73,224.19 L143.88,224.19 L144.02,224.19 L144.16,224.19 L144.31,224.19 L144.45,224.19 L144.6,224.19 L144.74,224.19 L144.88,224.19 L145.03,224.19 L145.17,224.19 L145.32,224.19 L145.46,224.19 L145.6,224.18 L145.75,224.18 L145.89,224.18 L146.04,224.18 L146.18,224.18 L146.32,224.18 L146.47,224.18 L146.61,224.18 L146.76,224.18 L146.9,224.18 L147.04,224.18 L147.19,224.17 L147.33,224.17 L147.48,224.17 L147.62,224.17 L147.76,224.17 L147.91,224.17 L148.05,224.16 L148.2,224.16 L148.34,224.16 L148.48,224.16 L148.63,224.15 L148.77,224.15 L148.92,224.15 L149.06,224.14 L149.21,224.14 L149.35,224.14 L149.49,224.13 L149.64,224.13 L149.78,224.12 L149.93,224.11 L150.07,224.11 L150.21,224.1 L150.36,224.09 L150.5,224.08 L150.65,224.07 L150.79,224.06 L150.93,224.05 L151.08,224.03 L151.22,224.02 L151.37,224 L151.51,223.98 L151.65,223.96 L151.8,223.93 L151.94,223.9 L152.09,223.87 L152.23,223.83 L152.37,223.78 L152.52,223.73 L152.66,223.67 L152.81,223.6 L152.95,223.52 L153.09,223.43 L153.24,223.32 L153.38,223.2 L153.53,223.05 L153.67,222.88 L153.81,222.68 L153.96,222.44 L154.1,222.18 L154.25,221.87 L154.39,221.52 L154.53,221.12 L154.68,220.67 L154.82,220.17 L154.97,219.62 L155.11,219.03 L155.26,218.4 L155.4,217.72 L155.54,217.01 L155.69,216.27 L155.83,215.51 L155.98,214.73 L156.12,213.94 L156.26,213.13 L156.41,212.32 L156.55,211.5 L156.7,210.68 L156.84,209.86 L156.98,209.04 L157.13,208.22 L157.27,207.4 L157.42,206.59 L157.56,205.78 L157.7,204.97 L157.85,204.17 L157.99,203.38 L158.14,202.59 L158.28,201.8 L158.42,201.02 L158.57,200.24 L158.71,199.47 L158.86,198.71 L159,197.95 L159.14,197.2 L159.29,196.45 L159.43,195.71 L159.58,194.97 L159.72,194.24 L159.86,193.52 L160.01,192.8 L160.15,192.08 L160.3,191.37 L160.44,190.67 L160.59,189.97 L160.73,189.28 L160.87,188.59 L161.02,187.91 L161.16,187.23 L161.31,186.56 L161.45,185.89 L161.59,185.23 L161.74,184.58 L161.88,183.93 L162.03,183.28 L162.17,182.64 L162.31,182.01 L162.46,181.38 L162.6,180.75 L162.75,180.13 L162.89,179.52 L163.03,178.91 L163.18,178.3 L163.32,177.7 L163.47,177.11 L163.61,176.52 L163.75,175.94 L163.9,175.36 L164.04,174.78 L164.19,174.21 L164.33,173.65 L164.47,173.09 L164.62,172.53 L164.76,171.98 L164.91,171.44 L165.05,170.89 L165.19,170.36 L165.34,169.83 L165.48,169.3 L165.63,168.78 L165.77,168.26 L165.91,167.75 L166.06,167.24 L166.2,166.74 L166.35,166.24 L166.49,165.74 L166.64,165.25 L166.78,164.77 L166.92,164.29 L167.07,163.81 L167.21,163.34 L167.36,162.87 L167.5,162.41 L167.64,161.95 L167.79,161.5 L167.93,161.05 L168.08,160.6 L168.22,160.16 L168.36,159.72 L168.51,159.29 L168.65,158.86 L168.94,158.02 L169.66,155.98 L170.38,154.04 L171.1,152.21 L171.82,150.47 L172.54,148.82 L173.26,147.27 L173.98,145.8 L174.7,144.42 L175.42,143.13 L176.14,141.91 L176.86,140.78 L177.58,139.71 L178.3,138.73 L179.02,137.81 L179.74,136.96 L180.46,136.18 L181.18,135.45 L181.9,134.79 L182.62,134.19 L183.34,133.64 L184.06,133.14 L184.78,132.69 L185.5,132.29 L186.22,131.94 L186.94,131.62 L187.66,131.35 L188.38,131.11 L189.1,130.91 L189.82,130.73 L190.54,130.59 L191.26,130.47 L191.98,130.37 L192.7,130.3 L193.42,130.24 L194.14,130.21 L194.86,130.18 L195.58,130.16 L196.3,130.15 L197.02,130.15 L197.74,130.15 L197.75,130.15 L197.76,130.15 L198.48,130.15 L199.2,130.15 L199.92,130.14 L200.64,130.12 L201.36,130.09 L202.08,130.06 L202.8,130 L203.52,129.93 L204.24,129.83 L204.96,129.71 L205.68,129.57 L206.4,129.39 L207.12,129.19 L207.84,128.95 L208.56,128.68 L209.28,128.36 L210,128.01 L210.72,127.61 L211.44,127.16 L212.16,126.66 L212.88,126.11 L213.6,125.51 L214.32,124.85 L215.04,124.12 L215.76,123.34 L216.48,122.49 L217.2,121.57 L217.92,120.59 L218.64,119.52 L219.36,118.39 L220.08,117.17 L220.8,115.88 L221.52,114.5 L222.24,113.03 L222.96,111.48 L223.68,109.83 L224.4,108.09 L225.12,106.26 L225.84,104.32 L226.56,102.28 L226.85,101.44 L226.99,101.01 L227.14,100.58 L227.28,100.14 L227.42,99.7 L227.57,99.25 L227.71,98.8 L227.86,98.35 L228,97.89 L228.14,97.43 L228.29,96.96 L228.43,96.49 L228.58,96.01 L228.72,95.53 L228.86,95.05 L229.01,94.56 L229.15,94.06 L229.3,93.56 L229.44,93.06 L229.59,92.55 L229.73,92.04 L229.87,91.52 L230.02,91 L230.16,90.47 L230.31,89.94 L230.45,89.41 L230.59,88.86 L230.74,88.32 L230.88,87.77 L231.03,87.21 L231.17,86.65 L231.31,86.09 L231.46,85.52 L231.6,84.94 L231.75,84.36 L231.89,83.78 L232.03,83.19 L232.18,82.6 L232.32,82 L232.47,81.39 L232.61,80.78 L232.75,80.17 L232.9,79.55 L233.04,78.92 L233.19,78.29 L233.33,77.66 L233.47,77.02 L233.62,76.37 L233.76,75.72 L233.91,75.07 L234.05,74.41 L234.19,73.74 L234.34,73.07 L234.48,72.39 L234.63,71.71 L234.77,71.02 L234.91,70.33 L235.06,69.63 L235.2,68.93 L235.35,68.22 L235.49,67.5 L235.64,66.78 L235.78,66.06 L235.92,65.33 L236.07,64.59 L236.21,63.85 L236.36,63.1 L236.5,62.35 L236.64,61.59 L236.79,60.83 L236.93,60.06 L237.08,59.28 L237.22,58.5 L237.36,57.71 L237.51,56.92 L237.65,56.13 L237.8,55.33 L237.94,54.52 L238.08,53.71 L238.23,52.9 L238.37,52.08 L238.52,51.26 L238.66,50.44 L238.8,49.62 L238.95,48.8 L239.09,47.98 L239.24,47.17 L239.38,46.36 L239.52,45.57 L239.67,44.79 L239.81,44.03 L239.96,43.29 L240.1,42.58 L240.24,41.9 L240.39,41.27 L240.53,40.68 L240.68,40.13 L240.82,39.63 L240.97,39.18 L241.11,38.78 L241.25,38.43 L241.4,38.12 L241.54,37.86 L241.69,37.62 L241.83,37.42 L241.97,37.25 L242.12,37.1 L242.26,36.98 L242.41,36.87 L242.55,36.78 L242.69,36.7 L242.84,36.63 L242.98,36.57 L243.13,36.52 L243.27,36.47 L243.41,36.43 L243.56,36.4 L243.7,36.37 L243.85,36.34 L243.99,36.32 L244.13,36.3 L244.28,36.28 L244.42,36.27 L244.57,36.25 L244.71,36.24 L244.85,36.23 L245,36.22 L245.14,36.21 L245.29,36.2 L245.43,36.19 L245.57,36.19 L245.72,36.18 L245.86,36.17 L246.01,36.17 L246.15,36.16 L246.29,36.16 L246.44,36.16 L246.58,36.15 L246.73,36.15 L246.87,36.15 L247.02,36.14 L247.16,36.14 L247.3,36.14 L247.45,36.14 L247.59,36.13 L247.74,36.13 L247.88,36.13 L248.02,36.13 L248.17,36.13 L248.31,36.13 L248.46,36.12 L248.6,36.12 L248.74,36.12 L248.89,36.12 L249.03,36.12 L249.18,36.12 L249.32,36.12 L249.46,36.12 L249.61,36.12 L249.75,36.12 L249.9,36.12 L250.04,36.11 L250.18,36.11 L250.33,36.11 L250.47,36.11 L250.62,36.11 L250.76,36.11 L250.9,36.11 L251.05,36.11 L251.19,36.11 L251.34,36.11 L251.48,36.11 L251.62,36.11 L251.77,36.11 L251.91,36.11 L252.06,36.11 L252.2,36.11 L252.34,36.11 L252.49,36.11 L252.63,36.11 L252.78,36.11 L252.92,36.11 L253.07,36.11 L253.21,36.11 L253.35,36.11 L253.5,36.11 L253.64,36.11 L253.79,36.11 L253.93,36.11 L254.07,36.11 L254.22,36.1 L254.36,36.1 L254.51,36.1 L254.65,36.1 L254.79,36.1 L254.94,36.1 L255.08,36.1 L255.23,36.1 L255.37,36.1 L255.51,36.1 L255.66,36.1 L255.8,36.1 L255.95,36.1 L256.09,36.1 L256.23,36.1 L256.38,36.1 L256.52,36.1 L256.67,36.1 L256.81,36.1 L256.95,36.1 L257.1,36.1 L257.24,36.1 L257.39,36.1 L257.53,36.1 L257.67,36.1 L257.82,36.1 L257.96,36.1 L258.11,36.1 L258.25,36.1 L258.4,36.1 L258.54,36.1 L258.68,36.1 L258.83,36.1 L258.97,36.1 L259.12,36.1 L259.26,36.1 L259.4,36.1 L259.55,36.1 L259.69,36.1 L259.84,36.1 L259.98,36.1 L260.12,36.1 L260.27,36.1 L260.41,36.1 L260.56,36.1 L260.7,36.1 L260.84,36.1 L260.99,36.1 L261.13,36.1 L261.28,36.1 L261.42,36.1 L261.56,36.1 L261.71,36.1 L261.85,36.1 L262,36.1 L262.14,36.1 L262.28,36.1 L262.43,36.1 L262.57,36.1 L263.29,36.1 L264.01,36.1 L264.73,36.1 L265.45,36.1 L266.17,36.1 L266.89,36.1 L267.61,36.1 L268.33,36.1 L269.05,36.1 L269.77,36.1 L270.5,36.1 L271.22,36.1 L271.94,36.1 L272.66,36.1 L273.38,36.1 L274.1,36.1 L274.82,36.1 L275.54,36.1 L276.26,36.1 L276.98,36.1 L277.7,36.1 L278.42,36.1 L279.14,36.1 L279.86,36.1 L280.58,36.1 L281.3,36.1 L282.02,36.1 L282.74,36.1 L283.46,36.1 L284.18,36.1 L284.9,36.1 L285.62,36.1 L286.34,36.1 L287.06,36.1 L287.78,36.1 L288.5,36.1 L289.22,36.1 L289.94,36.1 L290.66,36.1 L291.38,36.1 L292.1,36.1 L292.82,36.1 L293.54,36.1 L294.26,36.1 L294.98,36.1 L295.7,36.1 L296.42,36.1 L297.14,36.1 L297.86,36.1 L298.58,36.1 L299.31,36.1 L300.03,36.1 L300.75,36.1 L301.47,36.1 L302.19,36.1 L302.91,36.1 L303.63,36.1 L304.35,36.1 L305.07,36.1 L305.79,36.1 L306.51,36.1 L307.23,36.1 L307.95,36.1 L308.67,36.1 L309.39,36.1 L310.11,36.1 L310.83,36.1 L311.55,36.1 L312.27,36.1 L312.99,36.1 L313.71,36.1 L314.43,36.1 L315.15,36.1 L315.87,36.1 L316.59,36.1 L317.31,36.1 L318.03,36.1 L318.75,36.1 L319.47,36.1 L320.19,36.1 L320.91,36.1 L321.63,36.1 L322.35,36.1 L323.07,36.1 L323.79,36.1 L324.51,36.1 L325.23,36.1 L325.95,36.1 L326.67,36.1 L327.39,36.1 L328.12,36.1 L328.84,36.1 L329.56,36.1 L330.28,36.1 L331,36.1 L331.72,36.1 L332.44,36.1 L333.16,36.1 L333.88,36.1 L334.6,36.1 L335.32,36.1 L336.04,36.1 L336.76,36.1 L337.48,36.1 L338.2,36.1 L338.92,36.1 L339.64,36.1 L340.36,36.1 L341.08,36.1 L341.8,36.1" stroke="#996633"/>
</g>
<path d="M53.5,234.8v-3.7M53.5,25.5v3.7M68.5,234.8v-2.2M68.5,25.5v2.2M82.5,234.8v-2.2M82.5,25.5v2.2M97.5,234.8v-2.2M97.5,25.5v2.2M111.5,234.8v-2.2M111.5,25.5v2.2M125.5,234.8v-3.7M125.5,25.5v3.7M140.5,234.8v-2.2M140.5,25.5v2.2M154.5,234.8v-2.2M154.5,25.5v2.2M169.5,234.8v-2.2M169.5,25.5v2.2M183.5,234.8v-2.2M183.5,25.5v2.2M197.5,234.8v-3.7M197.5,25.5v3.7M212.5,234.8v-2.2M212.5,25.5v2.2M226.5,234.8v-2.2M226.5,25.5v2.2M241.5,234.8v-2.2M241.5,25.5v2.2M255.5,234.8v-2.2M255.5,25.5v2.2M269.5,234.8v-3.7M269.5,25.5v3.7M284.5,234.8v-2.2M284.5,25.5v2.2M298.5,234.8v-2.2M298.5,25.5v2.2M313.5,234.8v-2.2M313.5,25.5v2.2M327.5,234.8v-2.2M327.5,25.5v2.2M341.5,234.8v-3.7M341.5,25.5v3.7M47.5,233.5h2.2M347.5,233.5h-2.2M47.5,224.5h3.7M347.5,224.5h-3.7M47.5,214.5h2.2M347.5,214.5h-2.2M47.5,205.5h2.2M347.5,205.5h-2.2M47.5,196.5h2.2M347.5,196.5h-2.2M47.5,186.5h2.2M347.5,186.5h-2.2M47.5,177.5h3.7M347.5,177.5h-3.7M47.5,167.5h2.2M347.5,167.5h-2.2M47.5,158.5h2.2M347.5,158.5h-2.2M47.5,148.5h2.2M347.5,148.5h-2.2M47.5,139.5h2.2M347.5,139.5h-2.2M47.5,129.5h3.7M347.5,129.5h-3.7M47.5,120.5h2.2M347.5,120.5h-2.2M47.5,111.5h2.2M347.5,111.5h-2.2M47.5,101.5h2.2M347.5,101.5h-2.2M47.5,92.5h2.2M347.5,92.5h-2.2M47.5,82.5h3.7M347.5,82.5h-3.7M47.5,73.5h2.2M347.5,73.5h-2.2M47.5,63.5h2.2M347.5,63.5h-2.2M47.5,54.5h2.2M347.5,54.5h-2.2M47.5,44.5h2.2M347.5,44.5h-2.2M47.5,35.5h3.7M347.5,35.5h-3.7M47.5,26.5h2.2M347.5,26.5h-2.2" stroke="#7c7c7c" stroke-width="0.8" fill="none"/>
<rect x="47.5" y="25.5" width="300.0" height="209.3" fill="none" stroke="#9c9c9c" stroke-width="1.0"/>
<rect x="221.5" y="135.5" width="114.0" height="78.5" fill="#fff"/>
<g clip-path="url(#ci)" fill="none" stroke-width="0.38" stroke-linejoin="round">
<path d="M213.44,214.9 L214.53,214.35 L215.61,213.81 L216.7,213.27 L217.78,212.74 L218.87,212.2 L219.96,211.68 L221.04,211.15 L222.13,210.64 L223.21,210.12 L224.3,209.61 L225.39,209.11 L226.47,208.6 L227.56,208.11 L228.64,207.61 L229.73,207.12 L230.82,206.64 L231.9,206.16 L232.99,205.68 L234.07,205.21 L235.16,204.74 L236.25,204.27 L237.33,203.81 L238.42,203.36 L239.5,202.91 L240.59,202.46 L241.68,202.01 L242.76,201.57 L243.85,201.14 L244.93,200.7 L246.02,200.28 L247.11,199.85 L248.19,199.43 L249.28,199.01 L250.36,198.6 L251.45,198.19 L252.54,197.78 L253.62,197.38 L254.71,196.98 L255.79,196.59 L256.88,196.2 L257.97,195.81 L259.05,195.43 L260.14,195.05 L261.22,194.67 L262.31,194.3 L263.4,193.93 L264.48,193.56 L265.57,193.2 L266.65,192.84 L267.74,192.49 L268.83,192.13 L269.91,191.78 L271,191.44 L272.08,191.1 L273.17,190.76 L274.26,190.42 L275.34,190.09 L276.43,189.76 L277.51,189.43 L278.6,189.11 L279.69,188.79 L280.77,188.47 L281.86,188.15 L282.94,187.84 L284.03,187.53 L285.12,187.23 L286.2,186.93 L287.29,186.63 L288.37,186.33 L289.46,186.03 L290.55,185.74 L291.63,185.45 L292.72,185.17 L293.8,184.88 L294.89,184.6 L295.98,184.33 L297.06,184.05 L298.15,183.78 L299.23,183.51 L300.32,183.24 L301.41,182.97 L302.49,182.71 L303.58,182.45 L304.66,182.19 L305.75,181.94 L306.84,181.68 L307.92,181.43 L309.01,181.18 L310.09,180.94 L311.18,180.69 L312.27,180.45 L313.35,180.21 L314.44,179.98 L315.52,179.74 L316.61,179.51 L317.7,179.28 L318.78,179.05 L319.87,178.82 L320.95,178.6 L322.04,178.38 L323.13,178.16 L324.21,177.94 L325.3,177.72 L326.38,177.51 L327.47,177.29 L328.56,177.08 L329.64,176.88 L330.73,176.67 L331.81,176.46 L332.9,176.26 L333.99,176.06 L335.07,175.86 L336.16,175.66 L337.24,175.47 L338.33,175.27 L339.42,175.08 L340.5,174.89 L341.59,174.7 L342.67,174.51 L343.76,174.33" stroke="#0000ff" stroke-dasharray="3.5 2.8"/>
<path d="M213.44,186.38 L214.53,185.64 L215.61,184.91 L216.7,184.2 L217.78,183.5 L218.87,182.8 L219.96,182.12 L221.04,181.45 L222.13,180.79 L223.21,180.15 L224.3,179.51 L225.39,178.89 L226.47,178.27 L227.56,177.67 L228.64,177.08 L229.73,176.5 L230.82,175.93 L231.9,175.37 L232.99,174.82 L234.07,174.28 L235.16,173.75 L236.25,173.23 L237.33,172.72 L238.42,172.22 L239.5,171.73 L240.59,171.25 L241.68,170.78 L242.76,170.32 L243.85,169.87 L244.93,169.42 L246.02,168.99 L247.11,168.56 L248.19,168.14 L249.28,167.73 L250.36,167.33 L251.45,166.94 L252.54,166.55 L253.62,166.17 L254.71,165.8 L255.79,165.44 L256.88,165.08 L257.97,164.73 L259.05,164.39 L260.14,164.05 L261.22,163.72 L262.31,163.4 L263.4,163.08 L264.48,162.77 L265.57,162.47 L266.65,162.17 L267.74,161.87 L268.83,161.59 L269.91,161.31 L271,161.03 L272.08,160.76 L273.17,160.49 L274.26,160.23 L275.34,159.98 L276.43,159.73 L277.51,159.48 L278.6,159.24 L279.69,159 L280.77,158.77 L281.86,158.54 L282.94,158.32 L284.03,158.1 L285.12,157.89 L286.2,157.67 L287.29,157.47 L288.37,157.26 L289.46,157.06 L290.55,156.87 L291.63,156.67 L292.72,156.49 L293.8,156.3 L294.89,156.12 L295.98,155.94 L297.06,155.76 L298.15,155.59 L299.23,155.42 L300.32,155.25 L301.41,155.09 L302.49,154.93 L303.58,154.77 L304.66,154.61 L305.75,154.46 L306.84,154.31 L307.92,154.16 L309.01,154.02 L310.09,153.87 L311.18,153.73 L312.27,153.59 L313.35,153.46 L314.44,153.33 L315.52,153.19 L316.61,153.06 L317.7,152.94 L318.78,152.81 L319.87,152.69 L320.95,152.57 L322.04,152.45 L323.13,152.33 L324.21,152.22 L325.3,152.1 L326.38,151.99 L327.47,151.88 L328.56,151.77 L329.64,151.66 L330.73,151.56 L331.81,151.46 L332.9,151.35 L333.99,151.25 L335.07,151.15 L336.16,151.06 L337.24,150.96 L338.33,150.87 L339.42,150.77 L340.5,150.68 L341.59,150.59 L342.67,150.5 L343.76,150.41" stroke="#ff0000"/>
<path d="M213.44,169.16 L214.53,168.19 L215.61,167.24 L216.7,166.32 L217.78,165.43 L218.87,164.56 L219.96,163.72 L221.04,162.91 L222.13,162.13 L223.21,161.37 L224.3,160.64 L225.39,159.94 L226.47,159.26 L227.56,158.61 L228.64,157.98 L229.73,157.37 L230.82,156.79 L231.9,156.23 L232.99,155.7 L234.07,155.18 L235.16,154.69 L236.25,154.22 L237.33,153.76 L238.42,153.33 L239.5,152.91 L240.59,152.51 L241.68,152.12 L242.76,151.75 L243.85,151.4 L244.93,151.06 L246.02,150.74 L247.11,150.42 L248.19,150.13 L249.28,149.84 L250.36,149.56 L251.45,149.3 L252.54,149.04 L253.62,148.8 L254.71,148.56 L255.79,148.34 L256.88,148.12 L257.97,147.91 L259.05,147.71 L260.14,147.52 L261.22,147.34 L262.31,147.16 L263.4,146.99 L264.48,146.82 L265.57,146.66 L266.65,146.51 L267.74,146.36 L268.83,146.21 L269.91,146.08 L271,145.94 L272.08,145.81 L273.17,145.69 L274.26,145.57 L275.34,145.45 L276.43,145.34 L277.51,145.23 L278.6,145.13 L279.69,145.03 L280.77,144.93 L281.86,144.83 L282.94,144.74 L284.03,144.65 L285.12,144.57 L286.2,144.48 L287.29,144.4 L288.37,144.32 L289.46,144.25 L290.55,144.17 L291.63,144.1 L292.72,144.03 L293.8,143.96 L294.89,143.89 L295.98,143.83 L297.06,143.77 L298.15,143.71 L299.23,143.65 L300.32,143.59 L301.41,143.53 L302.49,143.48 L303.58,143.43 L304.66,143.38 L305.75,143.33 L306.84,143.28 L307.92,143.23 L309.01,143.18 L310.09,143.14 L311.18,143.09 L312.27,143.05 L313.35,143.01 L314.44,142.97 L315.52,142.93 L316.61,142.89 L317.7,142.85 L318.78,142.81 L319.87,142.77 L320.95,142.74 L322.04,142.7 L323.13,142.67 L324.21,142.64 L325.3,142.6 L326.38,142.57 L327.47,142.54 L328.56,142.51 L329.64,142.48 L330.73,142.45 L331.81,142.42 L332.9,142.39 L333.99,142.37 L335.07,142.34 L336.16,142.31 L337.24,142.29 L338.33,142.26 L339.42,142.24 L340.5,142.21 L341.59,142.19 L342.67,142.17 L343.76,142.14" stroke="#ff8000"/>
<path d="M213.44,163.41 L214.53,162.24 L215.61,161.12 L216.7,160.03 L217.78,158.98 L218.87,157.98 L219.96,157.02 L221.04,156.11 L222.13,155.24 L223.21,154.41 L224.3,153.63 L225.39,152.89 L226.47,152.19 L227.56,151.53 L228.64,150.91 L229.73,150.32 L230.82,149.78 L231.9,149.26 L232.99,148.78 L234.07,148.33 L235.16,147.91 L236.25,147.51 L237.33,147.14 L238.42,146.79 L239.5,146.47 L240.59,146.16 L241.68,145.88 L242.76,145.61 L243.85,145.36 L244.93,145.13 L246.02,144.91 L247.11,144.7 L248.19,144.5 L249.28,144.32 L250.36,144.15 L251.45,143.99 L252.54,143.83 L253.62,143.69 L254.71,143.55 L255.79,143.42 L256.88,143.3 L257.97,143.19 L259.05,143.08 L260.14,142.97 L261.22,142.88 L262.31,142.78 L263.4,142.7 L264.48,142.61 L265.57,142.53 L266.65,142.46 L267.74,142.38 L268.83,142.32 L269.91,142.25 L271,142.19 L272.08,142.13 L273.17,142.07 L274.26,142.02 L275.34,141.96 L276.43,141.91 L277.51,141.87 L278.6,141.82 L279.69,141.78 L280.77,141.74 L281.86,141.7 L282.94,141.66 L284.03,141.62 L285.12,141.58 L286.2,141.55 L287.29,141.52 L288.37,141.48 L289.46,141.45 L290.55,141.42 L291.63,141.4 L292.72,141.37 L293.8,141.34 L294.89,141.32 L295.98,141.29 L297.06,141.27 L298.15,141.24 L299.23,141.22 L300.32,141.2 L301.41,141.18 L302.49,141.16 L303.58,141.14 L304.66,141.12 L305.75,141.1 L306.84,141.08 L307.92,141.07 L309.01,141.05 L310.09,141.03 L311.18,141.02 L312.27,141 L313.35,140.99 L314.44,140.97 L315.52,140.96 L316.61,140.95 L317.7,140.93 L318.78,140.92 L319.87,140.91 L320.95,140.9 L322.04,140.88 L323.13,140.87 L324.21,140.86 L325.3,140.85 L326.38,140.84 L327.47,140.83 L328.56,140.82 L329.64,140.81 L330.73,140.8 L331.81,140.79 L332.9,140.78 L333.99,140.77 L335.07,140.76 L336.16,140.76 L337.24,140.75 L338.33,140.74 L339.42,140.73 L340.5,140.72 L341.59,140.72 L342.67,140.71 L343.76,140.7" stroke="#00ff00"/>
<path d="M213.44,160.93 L214.53,159.61 L215.61,158.33 L216.7,157.1 L217.78,155.93 L218.87,154.81 L219.96,153.75 L221.04,152.75 L222.13,151.81 L223.21,150.93 L224.3,150.11 L225.39,149.35 L226.47,148.65 L227.56,148 L228.64,147.41 L229.73,146.86 L230.82,146.36 L231.9,145.9 L232.99,145.49 L234.07,145.1 L235.16,144.76 L236.25,144.44 L237.33,144.15 L238.42,143.88 L239.5,143.64 L240.59,143.42 L241.68,143.21 L242.76,143.03 L243.85,142.86 L244.93,142.7 L246.02,142.55 L247.11,142.42 L248.19,142.3 L249.28,142.18 L250.36,142.08 L251.45,141.98 L252.54,141.89 L253.62,141.8 L254.71,141.72 L255.79,141.65 L256.88,141.58 L257.97,141.52 L259.05,141.46 L260.14,141.4 L261.22,141.35 L262.31,141.3 L263.4,141.26 L264.48,141.21 L265.57,141.17 L266.65,141.13 L267.74,141.1 L268.83,141.06 L269.91,141.03 L271,141 L272.08,140.97 L273.17,140.94 L274.26,140.92 L275.34,140.89 L276.43,140.87 L277.51,140.85 L278.6,140.83 L279.69,140.81 L280.77,140.79 L281.86,140.77 L282.94,140.75 L284.03,140.74 L285.12,140.72 L286.2,140.7 L287.29,140.69 L288.37,140.68 L289.46,140.66 L290.55,140.65 L291.63,140.64 L292.72,140.62 L293.8,140.61 L294.89,140.6 L295.98,140.59 L297.06,140.58 L298.15,140.57 L299.23,140.56 L300.32,140.55 L301.41,140.55 L302.49,140.54 L303.58,140.53 L304.66,140.52 L305.75,140.51 L306.84,140.51 L307.92,140.5 L309.01,140.49 L310.09,140.49 L311.18,140.48 L312.27,140.47 L313.35,140.47 L314.44,140.46 L315.52,140.46 L316.61,140.45 L317.7,140.45 L318.78,140.44 L319.87,140.44 L320.95,140.43 L322.04,140.43 L323.13,140.42 L324.21,140.42 L325.3,140.41 L326.38,140.41 L327.47,140.41 L328.56,140.4 L329.64,140.4 L330.73,140.4 L331.81,140.39 L332.9,140.39 L333.99,140.38 L335.07,140.38 L336.16,140.38 L337.24,140.38 L338.33,140.37 L339.42,140.37 L340.5,140.37 L341.59,140.36 L342.67,140.36 L343.76,140.36" stroke="#800080"/>
<path d="M213.44,159.69 L214.53,158.24 L215.61,156.84 L216.7,155.48 L217.78,154.19 L218.87,152.96 L219.96,151.8 L221.04,150.71 L222.13,149.7 L223.21,148.77 L224.3,147.92 L225.39,147.15 L226.47,146.45 L227.56,145.82 L228.64,145.25 L229.73,144.75 L230.82,144.3 L231.9,143.9 L232.99,143.55 L234.07,143.23 L235.16,142.95 L236.25,142.7 L237.33,142.48 L238.42,142.29 L239.5,142.11 L240.59,141.95 L241.68,141.81 L242.76,141.69 L243.85,141.57 L244.93,141.47 L246.02,141.38 L247.11,141.29 L248.19,141.22 L249.28,141.15 L250.36,141.09 L251.45,141.03 L252.54,140.98 L253.62,140.93 L254.71,140.89 L255.79,140.85 L256.88,140.81 L257.97,140.77 L259.05,140.74 L260.14,140.71 L261.22,140.69 L262.31,140.66 L263.4,140.64 L264.48,140.62 L265.57,140.6 L266.65,140.58 L267.74,140.56 L268.83,140.54 L269.91,140.53 L271,140.51 L272.08,140.5 L273.17,140.49 L274.26,140.47 L275.34,140.46 L276.43,140.45 L277.51,140.44 L278.6,140.43 L279.69,140.42 L280.77,140.42 L281.86,140.41 L282.94,140.4 L284.03,140.39 L285.12,140.39 L286.2,140.38 L287.29,140.37 L288.37,140.37 L289.46,140.36 L290.55,140.36 L291.63,140.35 L292.72,140.35 L293.8,140.34 L294.89,140.34 L295.98,140.33 L297.06,140.33 L298.15,140.32 L299.23,140.32 L300.32,140.32 L301.41,140.31 L302.49,140.31 L303.58,140.31 L304.66,140.3 L305.75,140.3 L306.84,140.3 L307.92,140.3 L309.01,140.29 L310.09,140.29 L311.18,140.29 L312.27,140.29 L313.35,140.28 L314.44,140.28 L315.52,140.28 L316.61,140.28 L317.7,140.28 L318.78,140.27 L319.87,140.27 L320.95,140.27 L322.04,140.27 L323.13,140.27 L324.21,140.27 L325.3,140.26 L326.38,140.26 L327.47,140.26 L328.56,140.26 L329.64,140.26 L330.73,140.26 L331.81,140.26 L332.9,140.26 L333.99,140.25 L335.07,140.25 L336.16,140.25 L337.24,140.25 L338.33,140.25 L339.42,140.25 L340.5,140.25 L341.59,140.25 L342.67,140.25 L343.76,140.24" stroke="#ff8080"/>
<path d="M213.44,159.02 L214.53,157.47 L215.61,155.96 L216.7,154.49 L217.78,153.08 L218.87,151.74 L219.96,150.48 L221.04,149.3 L222.13,148.21 L223.21,147.22 L224.3,146.33 L225.39,145.54 L226.47,144.84 L227.56,144.22 L228.64,143.69 L229.73,143.23 L230.82,142.83 L231.9,142.49 L232.99,142.2 L234.07,141.95 L235.16,141.73 L236.25,141.55 L237.33,141.39 L238.42,141.25 L239.5,141.13 L240.59,141.03 L241.68,140.94 L242.76,140.87 L243.85,140.8 L244.93,140.74 L246.02,140.69 L247.11,140.64 L248.19,140.6 L249.28,140.56 L250.36,140.53 L251.45,140.5 L252.54,140.48 L253.62,140.46 L254.71,140.44 L255.79,140.42 L256.88,140.4 L257.97,140.39 L259.05,140.37 L260.14,140.36 L261.22,140.35 L262.31,140.34 L263.4,140.33 L264.48,140.32 L265.57,140.31 L266.65,140.31 L267.74,140.3 L268.83,140.29 L269.91,140.29 L271,140.28 L272.08,140.28 L273.17,140.27 L274.26,140.27 L275.34,140.26 L276.43,140.26 L277.51,140.26 L278.6,140.25 L279.69,140.25 L280.77,140.25 L281.86,140.25 L282.94,140.24 L284.03,140.24 L285.12,140.24 L286.2,140.24 L287.29,140.24 L288.37,140.23 L289.46,140.23 L290.55,140.23 L291.63,140.23 L292.72,140.23 L293.8,140.23 L294.89,140.23 L295.98,140.23 L297.06,140.22 L298.15,140.22 L299.23,140.22 L300.32,140.22 L301.41,140.22 L302.49,140.22 L303.58,140.22 L304.66,140.22 L305.75,140.22 L306.84,140.22 L307.92,140.22 L309.01,140.22 L310.09,140.22 L311.18,140.21 L312.27,140.21 L313.35,140.21 L314.44,140.21 L315.52,140.21 L316.61,140.21 L317.7,140.21 L318.78,140.21 L319.87,140.21 L320.95,140.21 L322.04,140.21 L323.13,140.21 L324.21,140.21 L325.3,140.21 L326.38,140.21 L327.47,140.21 L328.56,140.21 L329.64,140.21 L330.73,140.21 L331.81,140.21 L332.9,140.21 L333.99,140.21 L335.07,140.21 L336.16,140.21 L337.24,140.21 L338.33,140.21 L339.42,140.21 L340.5,140.21 L341.59,140.21 L342.67,140.21 L343.76,140.21" stroke="#996633"/>
</g>
<path d="M224.3,214v-2.4M224.3,135.5v2.4M229.73,214v-1.4M229.73,135.5v1.4M235.16,214v-1.4M235.16,135.5v1.4M240.59,214v-1.4M240.59,135.5v1.4M246.02,214v-2.4M246.02,135.5v2.4M251.45,214v-1.4M251.45,135.5v1.4M256.88,214v-1.4M256.88,135.5v1.4M262.31,214v-1.4M262.31,135.5v1.4M267.74,214v-2.4M267.74,135.5v2.4M273.17,214v-1.4M273.17,135.5v1.4M278.6,214v-1.4M278.6,135.5v1.4M284.03,214v-1.4M284.03,135.5v1.4M289.46,214v-2.4M289.46,135.5v2.4M294.89,214v-1.4M294.89,135.5v1.4M300.32,214v-1.4M300.32,135.5v1.4M305.75,214v-1.4M305.75,135.5v1.4M311.18,214v-2.4M311.18,135.5v2.4M316.61,214v-1.4M316.61,135.5v1.4M322.04,214v-1.4M322.04,135.5v1.4M327.47,214v-1.4M327.47,135.5v1.4M332.9,214v-2.4M332.9,135.5v2.4M221.5,211.26h1.4M335.5,211.26h-1.4M221.5,207.52h1.4M335.5,207.52h-1.4M221.5,203.78h1.4M335.5,203.78h-1.4M221.5,200.04h1.4M335.5,200.04h-1.4M221.5,196.3h2.4M335.5,196.3h-2.4M221.5,192.56h1.4M335.5,192.56h-1.4M221.5,188.82h1.4M335.5,188.82h-1.4M221.5,185.08h1.4M335.5,185.08h-1.4M221.5,181.34h1.4M335.5,181.34h-1.4M221.5,177.6h2.4M335.5,177.6h-2.4M221.5,173.86h1.4M335.5,173.86h-1.4M221.5,170.12h1.4M335.5,170.12h-1.4M221.5,166.38h1.4M335.5,166.38h-1.4M221.5,162.64h1.4M335.5,162.64h-1.4M221.5,158.9h2.4M335.5,158.9h-2.4M221.5,155.16h1.4M335.5,155.16h-1.4M221.5,151.42h1.4M335.5,151.42h-1.4M221.5,147.68h1.4M335.5,147.68h-1.4M221.5,143.94h1.4M335.5,143.94h-1.4M221.5,140.2h2.4M335.5,140.2h-2.4M221.5,136.46h1.4M335.5,136.46h-1.4" stroke="#8c8c8c" stroke-width="0.6" fill="none"/>
<rect x="221.5" y="135.5" width="114.0" height="78.5" fill="none" stroke="#9c9c9c" stroke-width="1.0"/>
<path d="M61.8,74H90.5" stroke="#0000ff" stroke-width="1.5" stroke-dasharray="4.4 1.6" fill="none"/>
<path d="M61.8,91.57H90.5" stroke="#ff0000" stroke-width="1.5" fill="none"/>
<path d="M61.8,109.14H90.5" stroke="#ff8000" stroke-width="1.5" fill="none"/>
<path d="M61.8,126.71H90.5" stroke="#00ff00" stroke-width="1.5" fill="none"/>
<path d="M61.8,144.28H90.5" stroke="#800080" stroke-width="1.5" fill="none"/>
<path d="M61.8,161.85H90.5" stroke="#ff8080" stroke-width="1.5" fill="none"/>
<path d="M61.8,179.42H90.5" stroke="#996633" stroke-width="1.5" fill="none"/>
<g font-family="Liberation Sans, sans-serif" fill="#000" stroke="#000" stroke-width="0.15" text-rendering="geometricPrecision" style="font-kerning:none">
<text transform="translate(44.9,40.35) scale(1,1.22)" font-size="11" text-anchor="end" xml:space="preserve"> .0</text>
<path transform="translate(29.608,40.35) scale(0.005371,-0.006553)" d="M605 0V1237L287 1010V1180L620 1409H786V0Z" vector-effect="non-scaling-stroke"/>
<text transform="translate(44.9,87.55) scale(1,1.22)" font-size="11" text-anchor="end" xml:space="preserve">0.5</text>
<text transform="translate(44.9,134.75) scale(1,1.22)" font-size="11" text-anchor="end" xml:space="preserve">0.0</text>
<text transform="translate(44.9,181.95) scale(1,1.22)" font-size="11" text-anchor="end" xml:space="preserve">−0.5</text>
<text transform="translate(44.9,229.15) scale(1,1.22)" font-size="11" text-anchor="end" xml:space="preserve">− .0</text>
<path transform="translate(29.608,229.15) scale(0.005371,-0.006553)" d="M605 0V1237L287 1010V1180L620 1409H786V0Z" vector-effect="non-scaling-stroke"/>
<text transform="translate(53.7,249.3) scale(1,1.1)" font-size="11.5" text-anchor="middle" xml:space="preserve">− 0</text>
<path transform="translate(50.662,249.3) scale(0.005615,-0.006177)" d="M605 0V1237L287 1010V1180L620 1409H786V0Z" vector-effect="non-scaling-stroke"/>
<text transform="translate(126.3,249.3) scale(1,1.1)" font-size="11.5" text-anchor="middle" xml:space="preserve">−5</text>
<text transform="translate(197.7,249.3) scale(1,1.1)" font-size="11.5" text-anchor="middle" xml:space="preserve">0</text>
<text transform="translate(269.7,249.3) scale(1,1.1)" font-size="11.5" text-anchor="middle" xml:space="preserve">5</text>
<text transform="translate(341.7,249.3) scale(1,1.1)" font-size="11.5" text-anchor="middle" xml:space="preserve"> 0</text>
<path transform="translate(335.304,249.3) scale(0.005615,-0.006177)" d="M605 0V1237L287 1010V1180L620 1409H786V0Z" vector-effect="non-scaling-stroke"/>
<text transform="translate(219.4,143.6) scale(1,1.22)" font-size="11.3" text-anchor="end" xml:space="preserve"> .0</text>
<path transform="translate(203.691,143.6) scale(0.005518,-0.006731)" d="M605 0V1237L287 1010V1180L620 1409H786V0Z" vector-effect="non-scaling-stroke"/>
<text transform="translate(219.4,163.2) scale(1,1.1)" font-size="11.5" text-anchor="end" xml:space="preserve">0.9</text>
<text transform="translate(219.4,181.9) scale(1,1.1)" font-size="11.5" text-anchor="end" xml:space="preserve">0.8</text>
<text transform="translate(219.4,200.6) scale(1,1.1)" font-size="11.5" text-anchor="end" xml:space="preserve">0.7</text>
<text transform="translate(224.3,229.4) scale(1,1.1)" font-size="11.5" text-anchor="middle" xml:space="preserve">3.0</text>
<text transform="translate(246.02,229.4) scale(1,1.1)" font-size="11.5" text-anchor="middle" xml:space="preserve">3.2</text>
<text transform="translate(267.74,229.4) scale(1,1.1)" font-size="11.5" text-anchor="middle" xml:space="preserve">3.4</text>
<text transform="translate(289.46,229.4) scale(1,1.1)" font-size="11.5" text-anchor="middle" xml:space="preserve">3.6</text>
<text transform="translate(311.18,229.4) scale(1,1.1)" font-size="11.5" text-anchor="middle" xml:space="preserve">3.8</text>
<text transform="translate(332.9,229.4) scale(1,1.1)" font-size="11.5" text-anchor="middle" xml:space="preserve">4.0</text>
<text transform="translate(96.6,77.7) scale(1,1.16)" font-size="9.5" text-anchor="start" xml:space="preserve">n = 0 </text>
<path transform="translate(117.994,77.7) scale(0.004639,-0.005381)" d="M605 0V1237L287 1010V1180L620 1409H786V0Z" vector-effect="non-scaling-stroke"/>
<text transform="translate(96.6,95.27) scale(1,1.16)" font-size="9.5" text-anchor="start" xml:space="preserve">n = 02</text>
<text transform="translate(96.6,112.84) scale(1,1.16)" font-size="9.5" text-anchor="start" xml:space="preserve">n = 04</text>
<text transform="translate(96.6,130.41) scale(1,1.16)" font-size="9.5" text-anchor="start" xml:space="preserve">n = 06</text>
<text transform="translate(96.6,147.98) scale(1,1.16)" font-size="9.5" text-anchor="start" xml:space="preserve">n = 08</text>
<text transform="translate(96.6,165.55) scale(1,1.16)" font-size="9.5" text-anchor="start" xml:space="preserve">n =  0</text>
<path transform="translate(112.710,165.55) scale(0.004639,-0.005381)" d="M605 0V1237L287 1010V1180L620 1409H786V0Z" vector-effect="non-scaling-stroke"/>
<text transform="translate(96.6,183.12) scale(1,1.16)" font-size="9.5" text-anchor="start" xml:space="preserve">n =  2</text>
<path transform="translate(112.710,183.12) scale(0.004639,-0.005381)" d="M605 0V1237L287 1010V1180L620 1409H786V0Z" vector-effect="non-scaling-stroke"/>
<text transform="translate(74.2,46.9) scale(1,1.1)" font-size="11.3" text-anchor="start" xml:space="preserve">m = z =  </text>
<path transform="translate(115.019,46.9) scale(0.005518,-0.006069)" d="M605 0V1237L287 1010V1180L620 1409H786V0Z" vector-effect="non-scaling-stroke"/>
<text transform="translate(197.8,271.1) scale(1,1.1)" font-size="12.5" text-anchor="middle" xml:space="preserve">x</text>
<text transform="translate(199,287.2) scale(1,1.1)" font-size="11.5" text-anchor="middle" xml:space="preserve">(c)</text>
<g transform="translate(15.2,142) rotate(-90)">
<ellipse cx="4" cy="-3.85" rx="3.5" ry="2.9" fill="none" stroke="#000" stroke-width="1.05"/>
<path d="M2,2.8L6,-9.9" fill="none" stroke="#000" stroke-width="0.9"/>
<text transform="translate(9.3,0) scale(1.12,1)" font-size="13">(x)</text>
</g>
</g>
</svg>
</body></html>
